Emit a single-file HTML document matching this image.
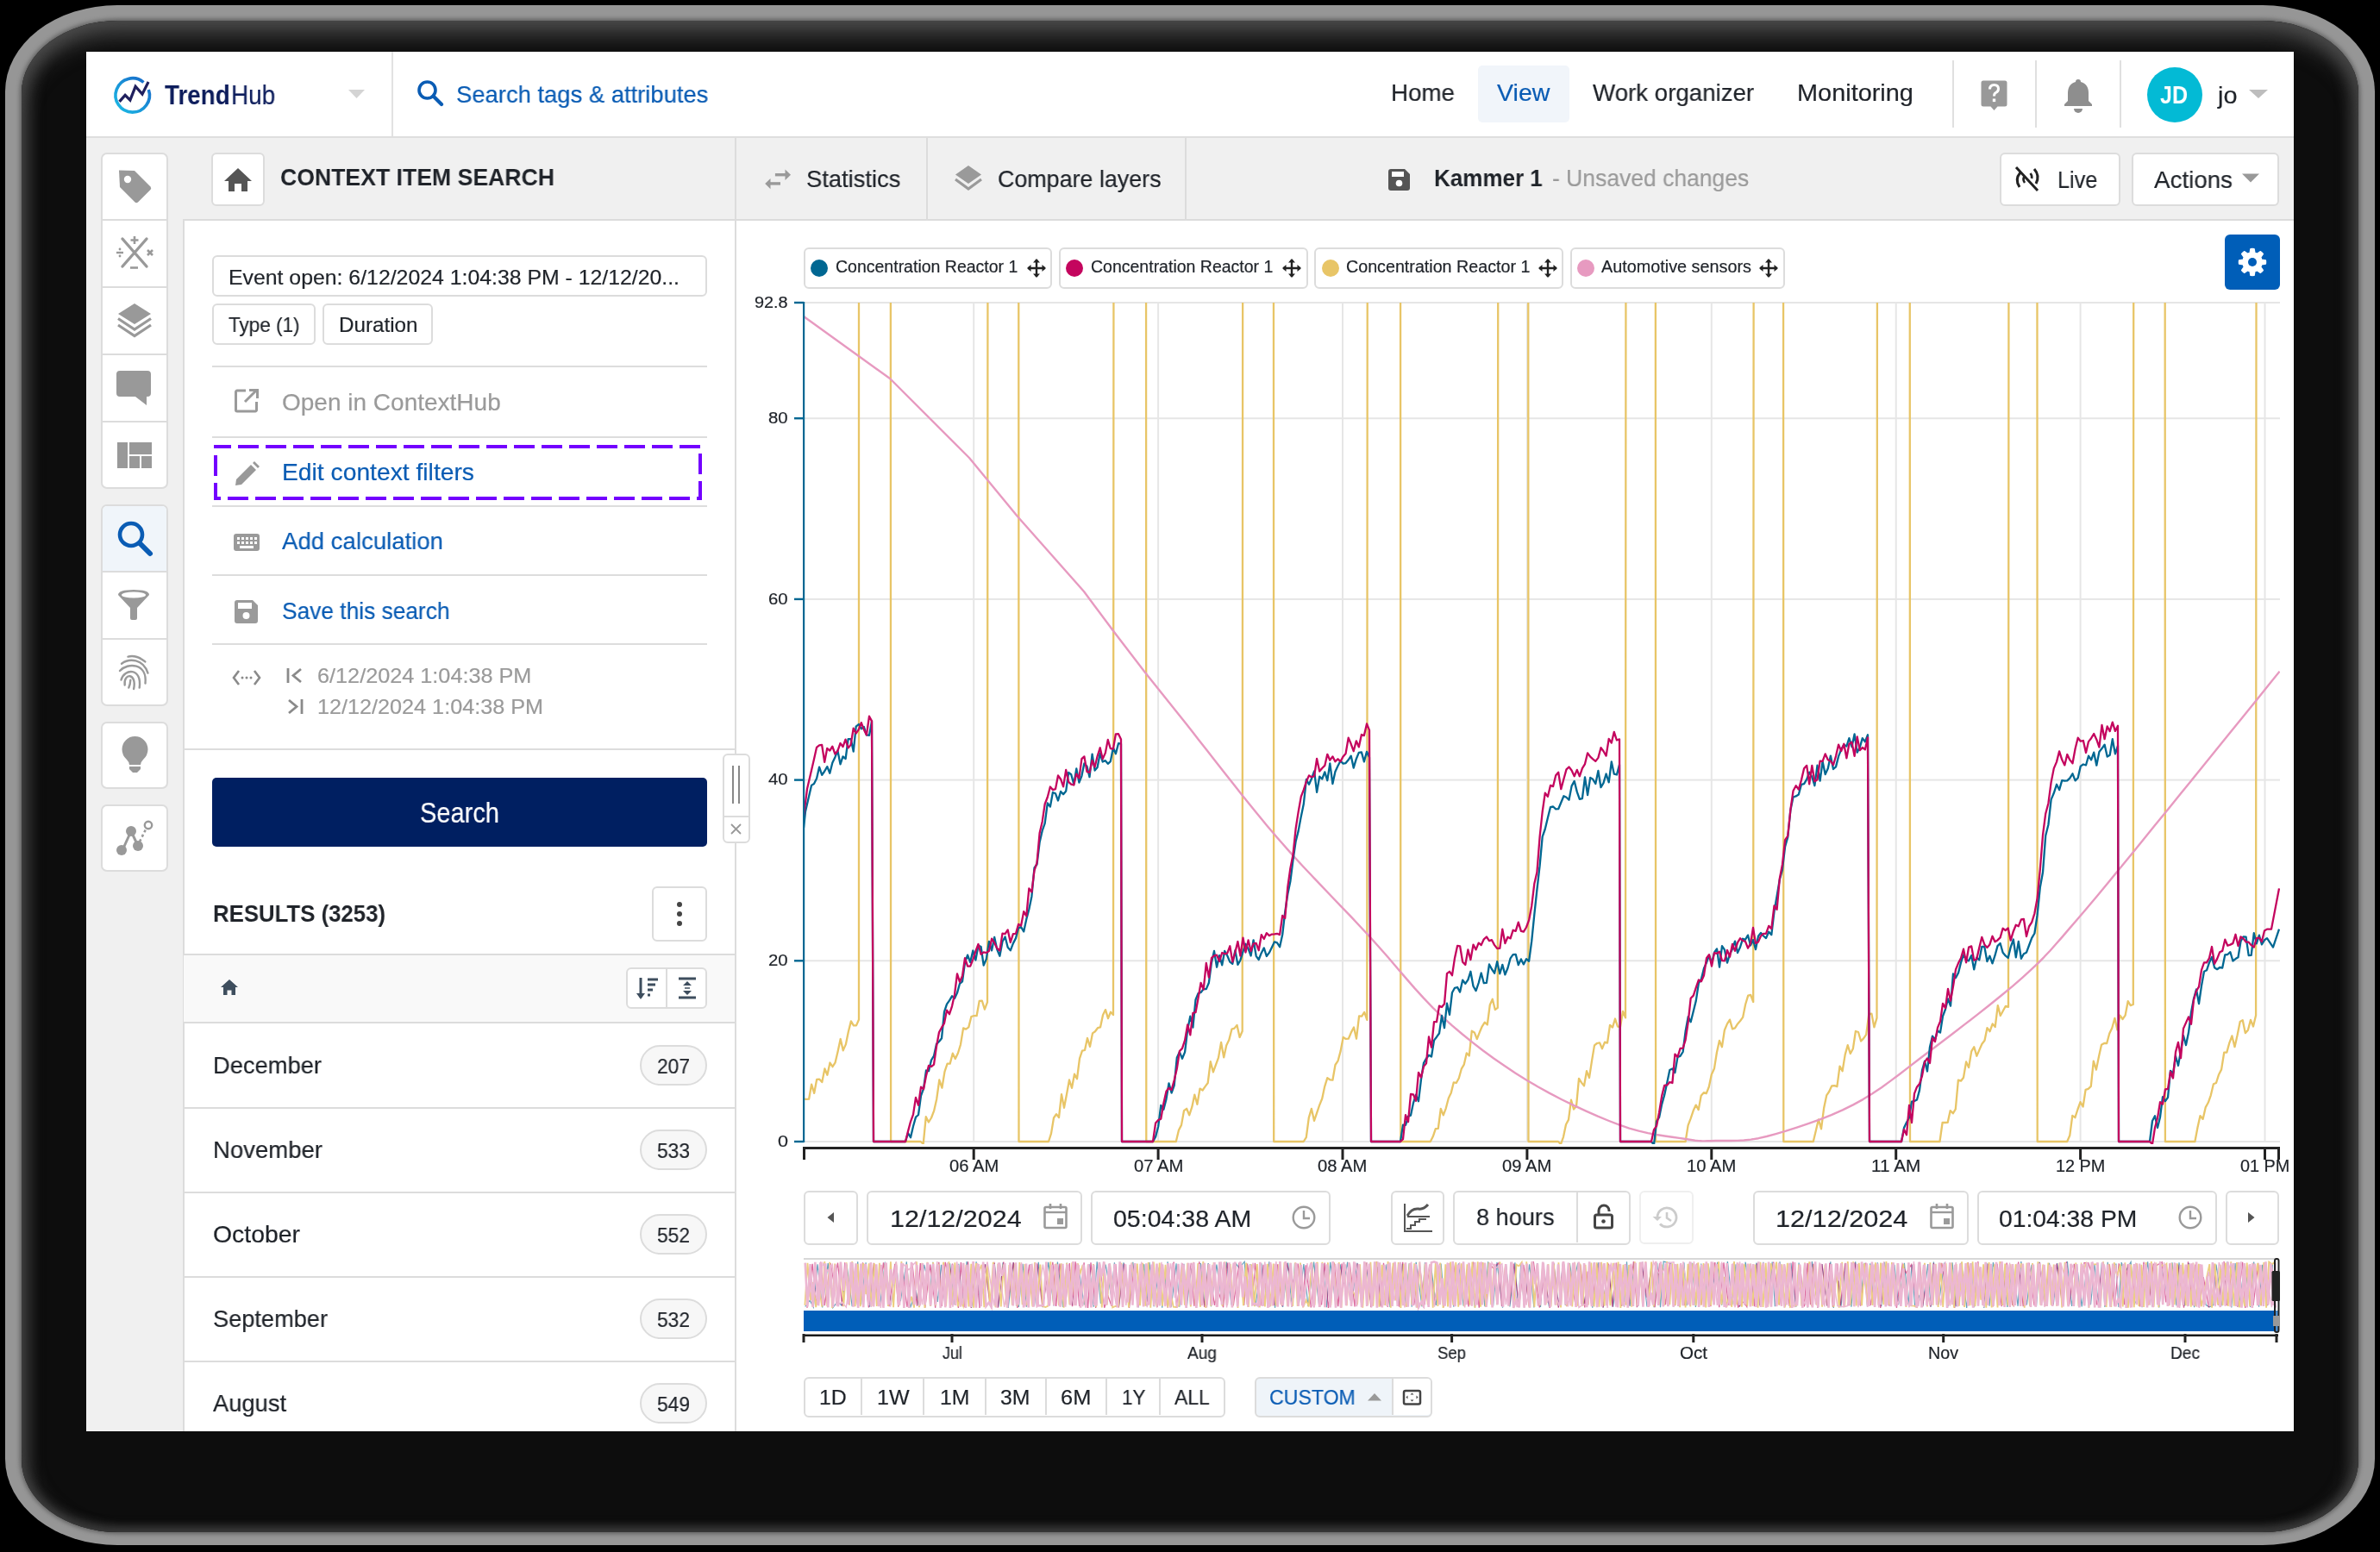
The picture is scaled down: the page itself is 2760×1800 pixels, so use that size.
<!DOCTYPE html><html><head><meta charset="utf-8"><style>
*{margin:0;padding:0;box-sizing:border-box}
html,body{width:2760px;height:1800px;overflow:hidden;background:#000;font-family:"Liberation Sans",sans-serif}
.t{position:absolute;white-space:nowrap;line-height:1;transform-origin:0 0;will-change:transform;-webkit-text-stroke:0.2px currentColor}
.b{position:absolute}
.chart{position:absolute;left:0;top:0}
svg.i{position:absolute;overflow:visible}
</style></head><body>
<div class="b" style="left:6.0px;top:6.0px;width:2748.0px;height:1786.0px;border-radius:130px / 100px;background:#969696;"></div>
<div class="b" style="left:25.0px;top:24.0px;width:2710.0px;height:1753.0px;border-radius:112px / 84px;background:#0d0d0d;box-shadow:inset 0 22px 26px -6px #4a4a4a, inset 0 -10px 12px -4px #3c3c3c, inset 14px 0 18px -6px #3c3c3c, inset -14px 0 18px -6px #3c3c3c, 0 0 5px 2px #606060;"></div>
<div class="b" style="left:100.0px;top:60.0px;width:2560.0px;height:1600.0px;background:#f0f0f0;"></div>
<div class="b" style="left:100.0px;top:60.0px;width:2560.0px;height:98.0px;background:#fff;"></div>
<div class="b" style="left:100.0px;top:158.0px;width:2560.0px;height:2.0px;background:#dedede;"></div>
<div class="b" style="left:454.0px;top:60.0px;width:2.0px;height:98.0px;background:#e2e2e2;"></div>
<svg class="i" style="left:0;top:0" width="400" height="200">
<defs><linearGradient id="lg" x1="0" y1="1" x2="1" y2="0"><stop offset="0" stop-color="#1cbde6"/><stop offset="1" stop-color="#1766c8"/></linearGradient></defs>
<path d="M 166.5 95.5 A 19.7 19.7 0 1 0 172.3 104" fill="none" stroke="url(#lg)" stroke-width="3.6"/>
<polyline points="138.5,117.9 145.1,110.4 150.9,116.2 157.1,100.3 165,109.1 172.1,95" fill="none" stroke="#20205e" stroke-width="3.2" stroke-linejoin="miter"/>
</svg>
<div class="t" style="left:191.3px;top:95.1px;font-size:30.52px;color:#0d1d5c;font-weight:700;-webkit-text-stroke:0;transform:scaleX(0.9109);">Trend</div>
<div class="t" style="left:268.2px;top:95.1px;font-size:30.52px;color:#0d1d5c;transform:scaleX(0.9144);">Hub</div>
<svg class="i" style="left:400px;top:100px" width="30" height="20"><path d="M4 4 L23 4 L13.5 14 Z" fill="#d4d4d4"/></svg>
<svg class="i" style="left:480px;top:90px" width="40" height="40"><circle cx="15.5" cy="14.5" r="9.5" fill="none" stroke="#0a5cb4" stroke-width="3.6"/><path d="M22.5 21.5 L32 31" stroke="#0a5cb4" stroke-width="4.2" stroke-linecap="round"/></svg>
<div class="t" style="left:528.6px;top:95.9px;font-size:28.00px;color:#0a5cb4;transform:scaleX(0.9785);">Search tags &amp; attributes</div>
<div class="b" style="left:1714.0px;top:76.0px;width:106.0px;height:66.0px;background:#f1f5fa;border-radius:5px;"></div>
<div class="t" style="left:1613.0px;top:94.2px;font-size:28.00px;color:#1f2329;transform:scaleX(0.9908);">Home</div>
<div class="t" style="left:1735.6px;top:94.2px;font-size:28.00px;color:#0a5cb4;transform:scaleX(1.0202);">View</div>
<div class="t" style="left:1846.6px;top:94.2px;font-size:28.00px;color:#1f2329;transform:scaleX(0.9882);">Work organizer</div>
<div class="t" style="left:2083.7px;top:94.2px;font-size:28.00px;color:#1f2329;transform:scaleX(1.0319);">Monitoring</div>
<div class="b" style="left:2264.0px;top:70.0px;width:2.0px;height:78.0px;background:#e0e0e0;"></div>
<div class="b" style="left:2360.0px;top:70.0px;width:2.0px;height:78.0px;background:#e0e0e0;"></div>
<div class="b" style="left:2458.0px;top:70.0px;width:2.0px;height:78.0px;background:#e0e0e0;"></div>
<svg class="i" style="left:2297px;top:93px" width="32" height="36"><path d="M3 0.5 H28 A2.5 2.5 0 0 1 30.5 3 V28 A2.5 2.5 0 0 1 28 30.5 H19.5 L15.5 35 L11.5 30.5 H3 A2.5 2.5 0 0 1 0.5 28 V3 A2.5 2.5 0 0 1 3 0.5 Z" fill="#999"/><path d="M10.5 10.5 Q10.5 5.5 15.5 5.5 Q20.5 5.5 20.5 10 Q20.5 13 17.5 14.5 Q15.5 15.5 15.5 18.5" fill="none" stroke="#fff" stroke-width="3"/><rect x="13.8" y="21.5" width="3.4" height="3.6" fill="#fff"/></svg>
<svg class="i" style="left:2388px;top:88px" width="44" height="46"><path d="M22 4 C24 4 25 5 25 7 C31 8.5 34 13 34 20 L34 29 L38 33 L38 35 L6 35 L6 33 L10 29 L10 20 C10 13 13 8.5 19 7 C19 5 20 4 22 4 Z" fill="#8e8e8e"/><path d="M17 38 A5 5 0 0 0 27 38 Z" fill="#8e8e8e"/></svg>
<div class="b" style="left:2490.0px;top:78.0px;width:64.0px;height:64.0px;background:#03bad5;border-radius:50%;"></div>
<div class="t" style="left:2505.0px;top:95.7px;font-size:29.07px;color:#fff;font-weight:700;-webkit-text-stroke:0;transform:scaleX(0.8611);">JD</div>
<div class="t" style="left:2572.0px;top:96.6px;font-size:28.00px;color:#1f2329;transform:scaleX(1.0324);">jo</div>
<svg class="i" style="left:2604px;top:100px" width="30" height="20"><path d="M4 4 L26 4 L15 14 Z" fill="#bdbdbd"/></svg>
<div class="b" style="left:117.0px;top:177.0px;width:78.0px;height:390.0px;background:#fff;border:2px solid #dcdcdc;border-radius:7px;"></div>
<div class="b" style="left:118.0px;top:254.0px;width:76.0px;height:2.0px;background:#dcdcdc;"></div>
<div class="b" style="left:118.0px;top:332.0px;width:76.0px;height:2.0px;background:#dcdcdc;"></div>
<div class="b" style="left:118.0px;top:410.0px;width:76.0px;height:2.0px;background:#dcdcdc;"></div>
<div class="b" style="left:118.0px;top:488.0px;width:76.0px;height:2.0px;background:#dcdcdc;"></div>
<div class="b" style="left:117.0px;top:585.0px;width:78.0px;height:234.0px;background:#fff;border:2px solid #dcdcdc;border-radius:7px;"></div>
<div class="b" style="left:119.0px;top:587.0px;width:74.0px;height:76.0px;background:#f0f5fa;border-radius:5px 5px 0 0;"></div>
<div class="b" style="left:118.0px;top:662.0px;width:76.0px;height:2.0px;background:#dcdcdc;"></div>
<div class="b" style="left:118.0px;top:740.0px;width:76.0px;height:2.0px;background:#dcdcdc;"></div>
<div class="b" style="left:117.0px;top:837.0px;width:78.0px;height:78.0px;background:#fff;border:2px solid #dcdcdc;border-radius:7px;"></div>
<div class="b" style="left:117.0px;top:933.0px;width:78.0px;height:78.0px;background:#fff;border:2px solid #dcdcdc;border-radius:7px;"></div>
<svg class="i" style="left:135.0px;top:195.0px" width="42" height="42" viewBox="0 0 42 42"><path d="M3 2.5 L21 3 L39.5 21.5 Q41 23.5 39.5 25 L25 39.5 Q23 41 21.5 39.5 L4 22 Z" fill="#999999"/><circle cx="13" cy="13" r="4.2" fill="#fff"/></svg>
<svg class="i" style="left:134.0px;top:274.0px" width="44" height="40" viewBox="0 0 44 40"><path d="M8 3 L36 35 M36 3 L8 35" stroke="#999999" stroke-width="3.4" stroke-linecap="round"/><path d="M22 0 V9 M17.5 4.5 H26.5" stroke="#999999" stroke-width="2.6"/><path d="M17 36.5 H26" stroke="#999999" stroke-width="2.6"/><path d="M1 19 H9" stroke="#999999" stroke-width="2.4"/><circle cx="5" cy="15" r="1.4" fill="#999999"/><circle cx="5" cy="23" r="1.4" fill="#999999"/><path d="M37 16 L43 22 M43 16 L37 22" stroke="#999999" stroke-width="2.6"/></svg>
<svg class="i" style="left:135.0px;top:351.0px" width="42" height="42" viewBox="0 0 42 42"><path d="M21 1 L40 13 L21 25 L2 13 Z" fill="#999999"/><path d="M2 18.5 L21 31 L40 18.5" fill="none" stroke="#999999" stroke-width="3.2"/><path d="M2 26 L21 38.5 L40 26" fill="none" stroke="#999999" stroke-width="3.2"/></svg>
<svg class="i" style="left:135.0px;top:430.0px" width="42" height="42" viewBox="0 0 42 42"><path d="M4 0 H36 A4 4 0 0 1 40 4 V26 A4 4 0 0 1 36 30 H35 V40 L22 30 H4 A4 4 0 0 1 0 26 V4 A4 4 0 0 1 4 0 Z" fill="#999999"/></svg>
<svg class="i" style="left:135.0px;top:512.0px" width="42" height="32" viewBox="0 0 42 32"><rect x="1" y="1" width="12" height="30" fill="#999999"/><rect x="15" y="1" width="26" height="14" fill="#999999"/><rect x="15" y="17" width="12" height="14" fill="#999999"/><rect x="29" y="17" width="12" height="14" fill="#999999"/></svg>
<svg class="i" style="left:135.0px;top:603.0px" width="44" height="44" viewBox="0 0 44 44"><circle cx="17" cy="17" r="13" fill="none" stroke="#0a5cb4" stroke-width="4.6"/><path d="M27 27 L39 39" stroke="#0a5cb4" stroke-width="6" stroke-linecap="round"/></svg>
<svg class="i" style="left:137.0px;top:684.0px" width="38" height="36" viewBox="0 0 38 36"><path d="M0 6 Q0 0 18 0 Q36 0 36 6 L22 21 V33 Q22 35 20 35 H16 Q14 35 14 33 V21 Z" fill="#999999"/><ellipse cx="18" cy="6" rx="14" ry="3.6" fill="#fff"/></svg>
<svg class="i" style="left:130.0px;top:750.0px" width="50" height="60" viewBox="0 0 50 60"><path d="M18.5 11.6 Q28 9 38.3 17.4" fill="none" stroke="#999999" stroke-width="2.4" stroke-linecap="round"/><path d="M11 19.7 C20 13 36 14 41.5 30.6" fill="none" stroke="#999999" stroke-width="2.4" stroke-linecap="round"/><path d="M9 28 C18 18 41 19 38.5 42.5" fill="none" stroke="#999999" stroke-width="2.4" stroke-linecap="round"/><path d="M10.5 38.5 C14 25 35 24 31.7 47.6" fill="none" stroke="#999999" stroke-width="2.4" stroke-linecap="round"/><path d="M14.7 44.5 C13 30 29 30 25.1 49.1" fill="none" stroke="#999999" stroke-width="2.4" stroke-linecap="round"/><path d="M21.3 38.7 Q21 44 19.3 47.6" fill="none" stroke="#999999" stroke-width="2.4" stroke-linecap="round"/></svg>
<svg class="i" style="left:140.0px;top:854.0px" width="34" height="44" viewBox="0 0 34 44"><path d="M16.5 0 A15 15 0 0 1 31.5 15 Q31.5 22 26 27 Q23 30 23 33 H10 Q10 30 7 27 Q1.5 22 1.5 15 A15 15 0 0 1 16.5 0 Z" fill="#999999"/><path d="M10 35 H23 V38 L19 42 H14 L10 38 Z" fill="#999999"/></svg>
<svg class="i" style="left:134.0px;top:951.0px" width="44" height="42" viewBox="0 0 44 42"><path d="M8 35 L18 13 L26 30" fill="none" stroke="#999999" stroke-width="3"/><path d="M28 25 L36 9" stroke="#999999" stroke-width="2.6" stroke-dasharray="3 3"/><circle cx="7" cy="35" r="6" fill="#999999"/><circle cx="18" cy="13" r="6" fill="#999999"/><circle cx="26" cy="30" r="6" fill="#999999"/><circle cx="38" cy="6" r="4.2" fill="none" stroke="#999999" stroke-width="2.4"/></svg>
<div class="b" style="left:245.0px;top:177.0px;width:62.0px;height:62.0px;background:#fff;border:2px solid #dcdcdc;border-radius:6px;"></div>
<svg class="i" style="left:258.0px;top:193.0px" width="36" height="30" viewBox="0 0 36 30"><path d="M18 2 L34 17 H29 V29 H22 V20 H14 V29 H7 V17 H2 Z" fill="#555"/></svg>
<div class="t" style="left:325.0px;top:192.1px;font-size:28.00px;color:#1f2329;font-weight:700;-webkit-text-stroke:0;transform:scaleX(0.9508);">CONTEXT ITEM SEARCH</div>
<div class="b" style="left:212.0px;top:254.0px;width:642.0px;height:1406.0px;background:#fff;border-left:2px solid #dcdcdc;border-top:2px solid #dcdcdc;"></div>
<div class="b" style="left:246.0px;top:296.0px;width:574.0px;height:48.0px;border:2px solid #dcdcdc;border-radius:6px;"></div>
<div class="t" style="left:265.0px;top:309.6px;font-size:24.00px;color:#1f2329;transform:scaleX(1.0342);">Event open: 6/12/2024 1:04:38 PM - 12/12/20...</div>
<div class="b" style="left:246.0px;top:352.0px;width:120.0px;height:48.0px;border:2px solid #dcdcdc;border-radius:6px;"></div>
<div class="t" style="left:265.0px;top:365.4px;font-size:24.00px;color:#1f2329;transform:scaleX(0.9372);">Type (1)</div>
<div class="b" style="left:374.0px;top:352.0px;width:128.0px;height:48.0px;border:2px solid #dcdcdc;border-radius:6px;"></div>
<div class="t" style="left:392.5px;top:365.4px;font-size:24.00px;color:#1f2329;transform:scaleX(1.0086);">Duration</div>
<div class="b" style="left:246.0px;top:424.0px;width:574.0px;height:2.0px;background:#dddddd;"></div>
<div class="b" style="left:246.0px;top:506.0px;width:574.0px;height:2.0px;background:#dddddd;"></div>
<div class="b" style="left:246.0px;top:586.0px;width:574.0px;height:2.0px;background:#dddddd;"></div>
<div class="b" style="left:246.0px;top:666.0px;width:574.0px;height:2.0px;background:#dddddd;"></div>
<div class="b" style="left:246.0px;top:746.0px;width:574.0px;height:2.0px;background:#dddddd;"></div>
<svg class="i" style="left:271.0px;top:450.0px" width="30" height="30" viewBox="0 0 30 30"><path d="M14 3 H4 A1.5 1.5 0 0 0 2.5 4.5 V25.5 A1.5 1.5 0 0 0 4 27 H25 A1.5 1.5 0 0 0 26.5 25.5 V16" fill="none" stroke="#9a9a9a" stroke-width="3"/><path d="M13 16 L26 3 M18 2.5 H27.5 V12" fill="none" stroke="#9a9a9a" stroke-width="3"/></svg>
<div class="t" style="left:327.0px;top:452.7px;font-size:28.00px;color:#9a9a9a;">Open in ContextHub</div>
<svg class="i" style="left:248px;top:516px" width="566" height="64"><rect x="2" y="2" width="562" height="60" fill="none" stroke="#7300ff" stroke-width="4" stroke-dasharray="24 8" stroke-dashoffset="6"/></svg>
<svg class="i" style="left:271.0px;top:535.0px" width="30" height="30" viewBox="0 0 30 30"><path d="M2 28 L3 21 L20 4 L26 10 L9 27 Z" fill="#999"/><path d="M22 2 L24 0 L30 6 L28 8 Z" fill="#999"/></svg>
<div class="t" style="left:327.0px;top:534.1px;font-size:28.00px;color:#0a5cb4;transform:scaleX(1.0091);">Edit context filters</div>
<svg class="i" style="left:270.0px;top:617.0px" width="32" height="24" viewBox="0 0 32 24"><rect x="1" y="2" width="30" height="20" rx="3" fill="#9a9a9a"/><rect x="5" y="6" width="3" height="3" fill="#fff"/><rect x="5" y="11" width="3" height="3" fill="#fff"/><rect x="10" y="6" width="3" height="3" fill="#fff"/><rect x="10" y="11" width="3" height="3" fill="#fff"/><rect x="15" y="6" width="3" height="3" fill="#fff"/><rect x="15" y="11" width="3" height="3" fill="#fff"/><rect x="20" y="6" width="3" height="3" fill="#fff"/><rect x="20" y="11" width="3" height="3" fill="#fff"/><rect x="25" y="6" width="3" height="3" fill="#fff"/><rect x="25" y="11" width="3" height="3" fill="#fff"/><rect x="8" y="16" width="16" height="3" fill="#fff"/></svg>
<div class="t" style="left:327.0px;top:613.7px;font-size:28.00px;color:#0a5cb4;transform:scaleX(0.9847);">Add calculation</div>
<svg class="i" style="left:271.0px;top:695.0px" width="30" height="30" viewBox="0 0 30 30"><path d="M3 1 H22 L28 7 V25 A3 3 0 0 1 25 28 H4 A3 3 0 0 1 1 25 V4 A3 3 0 0 1 4 1 Z" fill="#9a9a9a"/><rect x="5" y="4" width="16" height="7" fill="#fff"/><circle cx="14.5" cy="19" r="4" fill="#fff"/></svg>
<div class="t" style="left:327.0px;top:694.5px;font-size:28.00px;color:#0a5cb4;transform:scaleX(0.9396);">Save this search</div>
<svg class="i" style="left:268.0px;top:774.0px" width="36" height="24" viewBox="0 0 36 24"><path d="M9 4 L3 12 L9 20 M27 4 L33 12 L27 20" fill="none" stroke="#8a8a8a" stroke-width="2.6"/><circle cx="13" cy="12" r="1.5" fill="#8a8a8a"/><circle cx="18" cy="12" r="1.5" fill="#8a8a8a"/><circle cx="23" cy="12" r="1.5" fill="#8a8a8a"/></svg>
<svg class="i" style="left:332.0px;top:774.0px" width="22" height="20" viewBox="0 0 22 20"><path d="M2 1 V18" stroke="#8a8a8a" stroke-width="2.8"/><path d="M17 2 L8 9.5 L17 17" fill="none" stroke="#8a8a8a" stroke-width="2.8"/></svg>
<svg class="i" style="left:332.0px;top:810.0px" width="22" height="20" viewBox="0 0 22 20"><path d="M18 1 V18" stroke="#8a8a8a" stroke-width="2.8"/><path d="M3 2 L12 9.5 L3 17" fill="none" stroke="#8a8a8a" stroke-width="2.8"/></svg>
<div class="t" style="left:368.0px;top:771.5px;font-size:24.00px;color:#9a9a9a;transform:scaleX(1.0517);">6/12/2024 1:04:38 PM</div>
<div class="t" style="left:368.0px;top:807.5px;font-size:24.00px;color:#9a9a9a;transform:scaleX(1.0500);">12/12/2024 1:04:38 PM</div>
<div class="b" style="left:213.0px;top:868.0px;width:640.0px;height:2.0px;background:#dddddd;"></div>
<div class="b" style="left:246.0px;top:902.0px;width:574.0px;height:80.0px;background:#001f61;border-radius:5px;"></div>
<div class="t" style="left:487.0px;top:927.0px;font-size:32.30px;color:#fff;transform:scaleX(0.8989);">Search</div>
<div class="t" style="left:247.0px;top:1046.1px;font-size:28.00px;color:#1f2329;font-weight:700;-webkit-text-stroke:0;transform:scaleX(0.9203);">RESULTS (3253)</div>
<div class="b" style="left:756.0px;top:1028.0px;width:64.0px;height:64.0px;border:2px solid #dcdcdc;border-radius:6px;"></div>
<svg class="i" style="left:782.0px;top:1045.0px" width="12" height="30" viewBox="0 0 12 30"><circle cx="6" cy="4" r="3" fill="#444"/><circle cx="6" cy="15" r="3" fill="#444"/><circle cx="6" cy="26" r="3" fill="#444"/></svg>
<div class="b" style="left:213.0px;top:1106.0px;width:640.0px;height:81.0px;background:#f9f9f9;border-top:2px solid #dcdcdc;border-bottom:2px solid #dcdcdc;"></div>
<svg class="i" style="left:255.0px;top:1135.0px" width="22" height="22" viewBox="0 0 22 22"><path d="M11 1 L21 10 H18 V19 H13.5 V13.5 H8.5 V19 H4 V10 H1 Z" fill="#3e4e5e"/></svg>
<div class="b" style="left:726.0px;top:1122.0px;width:94.0px;height:48.0px;background:#fff;border:2px solid #dcdcdc;border-radius:6px;"></div>
<div class="b" style="left:772.0px;top:1124.0px;width:2.0px;height:44.0px;background:#dcdcdc;"></div>
<svg class="i" style="left:736.0px;top:1132.0px" width="30" height="30" viewBox="0 0 30 30"><path d="M7 2 V25" stroke="#3e4e5e" stroke-width="3"/><path d="M2 20 L7 27 L12 20 Z" fill="#3e4e5e"/><path d="M15 4 H27 M15 10 H24 M15 16 H21 M15 22 H18" stroke="#3e4e5e" stroke-width="3"/></svg>
<svg class="i" style="left:782.0px;top:1132.0px" width="30" height="30" viewBox="0 0 30 30"><path d="M5 3 H25 M5 25 H25" stroke="#3e4e5e" stroke-width="3"/><path d="M10 11 L15 6 L20 11 Z M10 17 L15 22 L20 17 Z" fill="#3e4e5e"/><path d="M12 14 H18" stroke="#3e4e5e" stroke-width="1.5"/></svg>
<div class="b" style="left:213.0px;top:1284.0px;width:640.0px;height:2.0px;background:#dcdcdc;"></div>
<div class="t" style="left:247.0px;top:1222.1px;font-size:28.00px;color:#1f2329;transform:scaleX(0.9755);">December</div>
<div class="b" style="left:742.0px;top:1212.0px;width:78.0px;height:47.0px;background:#f7f7f7;border:2px solid #dcdcdc;border-radius:24px;"></div>
<div class="t" style="left:762.0px;top:1225.4px;font-size:24.00px;color:#1f2329;transform:scaleX(0.9490);">207</div>
<div class="b" style="left:213.0px;top:1382.0px;width:640.0px;height:2.0px;background:#dcdcdc;"></div>
<div class="t" style="left:247.0px;top:1320.1px;font-size:28.00px;color:#1f2329;transform:scaleX(0.9833);">November</div>
<div class="b" style="left:742.0px;top:1310.0px;width:78.0px;height:47.0px;background:#f7f7f7;border:2px solid #dcdcdc;border-radius:24px;"></div>
<div class="t" style="left:762.0px;top:1323.4px;font-size:24.00px;color:#1f2329;transform:scaleX(0.9490);">533</div>
<div class="b" style="left:213.0px;top:1480.0px;width:640.0px;height:2.0px;background:#dcdcdc;"></div>
<div class="t" style="left:247.0px;top:1418.1px;font-size:28.00px;color:#1f2329;transform:scaleX(1.0141);">October</div>
<div class="b" style="left:742.0px;top:1408.0px;width:78.0px;height:47.0px;background:#f7f7f7;border:2px solid #dcdcdc;border-radius:24px;"></div>
<div class="t" style="left:762.0px;top:1421.4px;font-size:24.00px;color:#1f2329;transform:scaleX(0.9490);">552</div>
<div class="b" style="left:213.0px;top:1578.0px;width:640.0px;height:2.0px;background:#dcdcdc;"></div>
<div class="t" style="left:247.0px;top:1516.1px;font-size:28.00px;color:#1f2329;transform:scaleX(0.9710);">September</div>
<div class="b" style="left:742.0px;top:1506.0px;width:78.0px;height:47.0px;background:#f7f7f7;border:2px solid #dcdcdc;border-radius:24px;"></div>
<div class="t" style="left:762.0px;top:1519.4px;font-size:24.00px;color:#1f2329;transform:scaleX(0.9490);">532</div>
<div class="t" style="left:247.0px;top:1614.1px;font-size:28.00px;color:#1f2329;transform:scaleX(0.9751);">August</div>
<div class="b" style="left:742.0px;top:1604.0px;width:78.0px;height:47.0px;background:#f7f7f7;border:2px solid #dcdcdc;border-radius:24px;"></div>
<div class="t" style="left:762.0px;top:1617.4px;font-size:24.00px;color:#1f2329;transform:scaleX(0.9490);">549</div>
<div class="b" style="left:852.0px;top:254.0px;width:1808.0px;height:1406.0px;background:#fff;border-left:2px solid #dcdcdc;border-top:2px solid #dcdcdc;"></div>
<div class="b" style="left:852.0px;top:160.0px;width:2.0px;height:96.0px;background:#dcdcdc;"></div>
<div class="b" style="left:1074.0px;top:160.0px;width:2.0px;height:96.0px;background:#dcdcdc;"></div>
<div class="b" style="left:1374.0px;top:160.0px;width:2.0px;height:96.0px;background:#dcdcdc;"></div>
<svg class="i" style="left:886.0px;top:196.0px" width="32" height="26" viewBox="0 0 32 26"><path d="M12.9 6.7 H25.5" stroke="#9a9a9a" stroke-width="3.4"/><path d="M24.5 0.6 L31 6.7 L24.5 13 Z" fill="#9a9a9a"/><path d="M6.5 16.9 H19" stroke="#9a9a9a" stroke-width="3.4"/><path d="M7.5 10.9 L1.2 16.9 L7.5 23.3 Z" fill="#9a9a9a"/></svg>
<div class="t" style="left:935.0px;top:193.9px;font-size:28.00px;color:#1f2329;transform:scaleX(0.9765);">Statistics</div>
<svg class="i" style="left:1107.0px;top:191.0px" width="34" height="34" viewBox="0 0 34 34"><path d="M16 1 L31 11.5 L16 22 L1 11.5 Z" fill="#9a9a9a"/><path d="M1 17 L16 28 L31 17" fill="none" stroke="#9a9a9a" stroke-width="3.2"/></svg>
<div class="t" style="left:1156.5px;top:193.9px;font-size:28.00px;color:#1f2329;transform:scaleX(0.9589);">Compare layers</div>
<svg class="i" style="left:1609.0px;top:195.0px" width="28" height="28" viewBox="0 0 28 28"><path d="M3 1 H20 L26 7 V23 A3 3 0 0 1 23 26 H4 A3 3 0 0 1 1 23 V4 A3 3 0 0 1 4 1 Z" fill="#555"/><rect x="5" y="4" width="14" height="6" fill="#fff"/><circle cx="13.5" cy="17.5" r="3.8" fill="#fff"/></svg>
<div class="t" style="left:1663.0px;top:193.4px;font-size:28.00px;color:#1f2329;font-weight:700;-webkit-text-stroke:0;transform:scaleX(0.9291);">Kammer 1</div>
<div class="t" style="left:1800.0px;top:193.4px;font-size:28.00px;color:#9a9a9a;transform:scaleX(0.9459);">- Unsaved changes</div>
<div class="b" style="left:2319.0px;top:177.0px;width:140.0px;height:62.0px;border:2px solid #dcdcdc;border-radius:6px;background:#fff;"></div>
<svg class="i" style="left:2335.0px;top:192.0px" width="34" height="32" viewBox="0 0 34 32"><path d="M3 2 L28 29" stroke="#222" stroke-width="3"/><path d="M8 8 Q1 16 7 25" fill="none" stroke="#222" stroke-width="3"/><path d="M13 12 Q10 16 13 20" fill="none" stroke="#222" stroke-width="2.6"/><path d="M24 4 Q31 12 26 21" fill="none" stroke="#222" stroke-width="3"/><path d="M19.5 9 Q22 12 21 15" fill="none" stroke="#222" stroke-width="2.6"/></svg>
<div class="t" style="left:2386.0px;top:194.5px;font-size:28.00px;color:#1f2329;transform:scaleX(0.9033);">Live</div>
<div class="b" style="left:2472.0px;top:177.0px;width:171.0px;height:62.0px;border:2px solid #dcdcdc;border-radius:6px;background:#fff;"></div>
<div class="t" style="left:2498.0px;top:194.5px;font-size:28.00px;color:#1f2329;transform:scaleX(0.9911);">Actions</div>
<svg class="i" style="left:2598.0px;top:200.0px" width="24" height="14" viewBox="0 0 24 14"><path d="M2 1.5 H22 L12 11.5 Z" fill="#999"/></svg>
<div class="b" style="left:931.6px;top:287.0px;width:288.4px;height:48.0px;border:2px solid #dcdcdc;border-radius:6px;"></div>
<div class="b" style="left:940.2px;top:300.7px;width:20.0px;height:20.0px;background:#006792;border-radius:50%;"></div>
<div class="t" style="left:968.7px;top:300.2px;font-size:19.50px;color:#1f2329;">Concentration Reactor 1</div>
<svg class="i" style="left:1190.6px;top:300.0px" width="22" height="22" viewBox="0 0 22 22"><path d="M11 1 V21 M1 11 H21" stroke="#222" stroke-width="2.4"/><path d="M11 0 L7 4.5 H15 Z M11 22 L7 17.5 H15 Z M0 11 L4.5 7 V15 Z M22 11 L17.5 7 V15 Z" fill="#222"/></svg>
<div class="b" style="left:1228.0px;top:287.0px;width:289.0px;height:48.0px;border:2px solid #dcdcdc;border-radius:6px;"></div>
<div class="b" style="left:1236.4px;top:300.7px;width:20.0px;height:20.0px;background:#c4055e;border-radius:50%;"></div>
<div class="t" style="left:1265.3px;top:300.2px;font-size:19.50px;color:#1f2329;">Concentration Reactor 1</div>
<svg class="i" style="left:1487.3px;top:300.0px" width="22" height="22" viewBox="0 0 22 22"><path d="M11 1 V21 M1 11 H21" stroke="#222" stroke-width="2.4"/><path d="M11 0 L7 4.5 H15 Z M11 22 L7 17.5 H15 Z M0 11 L4.5 7 V15 Z M22 11 L17.5 7 V15 Z" fill="#222"/></svg>
<div class="b" style="left:1524.4px;top:287.0px;width:289.0px;height:48.0px;border:2px solid #dcdcdc;border-radius:6px;"></div>
<div class="b" style="left:1532.8px;top:300.7px;width:20.0px;height:20.0px;background:#e8c567;border-radius:50%;"></div>
<div class="t" style="left:1561.0px;top:300.2px;font-size:19.50px;color:#1f2329;transform:scaleX(1.0096);">Concentration Reactor 1</div>
<svg class="i" style="left:1784.0px;top:300.0px" width="22" height="22" viewBox="0 0 22 22"><path d="M11 1 V21 M1 11 H21" stroke="#222" stroke-width="2.4"/><path d="M11 0 L7 4.5 H15 Z M11 22 L7 17.5 H15 Z M0 11 L4.5 7 V15 Z M22 11 L17.5 7 V15 Z" fill="#222"/></svg>
<div class="b" style="left:1820.7px;top:287.0px;width:249.6px;height:48.0px;border:2px solid #dcdcdc;border-radius:6px;"></div>
<div class="b" style="left:1829.2px;top:300.7px;width:20.0px;height:20.0px;background:#e79ac0;border-radius:50%;"></div>
<div class="t" style="left:1857.3px;top:300.2px;font-size:19.50px;color:#1f2329;transform:scaleX(1.0161);">Automotive sensors</div>
<svg class="i" style="left:2040.0px;top:300.0px" width="22" height="22" viewBox="0 0 22 22"><path d="M11 1 V21 M1 11 H21" stroke="#222" stroke-width="2.4"/><path d="M11 0 L7 4.5 H15 Z M11 22 L7 17.5 H15 Z M0 11 L4.5 7 V15 Z M22 11 L17.5 7 V15 Z" fill="#222"/></svg>
<div class="b" style="left:2580.0px;top:272.0px;width:64.0px;height:64.0px;background:#005eb8;border-radius:6px;"></div>
<svg class="i" style="left:2592.0px;top:283.5px" width="40" height="40" viewBox="0 0 40 40"><polygon points="35.50,20.00 35.37,22.02 30.63,22.85 30.16,24.21 29.53,25.50 32.30,29.44 30.96,30.96 29.44,32.30 25.50,29.53 24.21,30.16 22.85,30.63 22.02,35.37 20.00,35.50 17.98,35.37 17.15,30.63 15.79,30.16 14.50,29.53 10.56,32.30 9.04,30.96 7.70,29.44 10.47,25.50 9.84,24.21 9.37,22.85 4.63,22.02 4.50,20.00 4.63,17.98 9.37,17.15 9.84,15.79 10.47,14.50 7.70,10.56 9.04,9.04 10.56,7.70 14.50,10.47 15.79,9.84 17.15,9.37 17.98,4.63 20.00,4.50 22.02,4.63 22.85,9.37 24.21,9.84 25.50,10.47 29.44,7.70 30.96,9.04 32.30,10.56 29.53,14.50 30.16,15.79 30.63,17.15 35.37,17.98" fill="#fff" stroke="#fff" stroke-width="1.5" stroke-linejoin="round"/><circle cx="20" cy="20" r="11.5" fill="#fff"/><circle cx="20" cy="20" r="5" fill="#005eb8"/></svg>
<div class="b" style="left:932.0px;top:1380.5px;width:63.0px;height:63.0px;border:2px solid #dcdcdc;border-radius:6px;background:#fff;"></div>
<svg class="i" style="left:958.0px;top:1405.0px" width="10" height="14" viewBox="0 0 10 14"><path d="M9 1 L1.5 7 L9 13 Z" fill="#555"/></svg>
<div class="b" style="left:1005.0px;top:1380.5px;width:250.0px;height:63.0px;border:2px solid #dcdcdc;border-radius:6px;background:#fff;"></div>
<div class="t" style="left:1032.0px;top:1400.0px;font-size:28.00px;color:#1f2329;transform:scaleX(1.0889);">12/12/2024</div>
<svg class="i" style="left:1209.5px;top:1396.0px" width="28" height="30" viewBox="0 0 28 30"><rect x="1.5" y="4" width="25" height="24" rx="1.5" fill="none" stroke="#9a9a9a" stroke-width="2.6"/><path d="M1.5 10 H26.5" stroke="#9a9a9a" stroke-width="2.4"/><path d="M8 0 V6 M20 0 V6" stroke="#9a9a9a" stroke-width="2.6"/><rect x="16" y="17" width="7" height="7" fill="#9a9a9a"/></svg>
<div class="b" style="left:1265.0px;top:1380.5px;width:278.0px;height:63.0px;border:2px solid #dcdcdc;border-radius:6px;background:#fff;"></div>
<div class="t" style="left:1291.0px;top:1400.0px;font-size:28.00px;color:#1f2329;transform:scaleX(1.0189);">05:04:38 AM</div>
<svg class="i" style="left:1497.5px;top:1398.0px" width="28" height="28" viewBox="0 0 28 28"><circle cx="14" cy="14" r="12.3" fill="none" stroke="#9a9a9a" stroke-width="2.4"/><path d="M14 6 V15 H21" fill="none" stroke="#9a9a9a" stroke-width="2.4"/></svg>
<div class="b" style="left:1613.0px;top:1380.5px;width:62.0px;height:63.0px;border:2px solid #dcdcdc;border-radius:6px;background:#fff;"></div>
<svg class="i" style="left:1627.0px;top:1395.0px" width="34" height="34" viewBox="0 0 34 34"><path d="M2 1 V33 H34" fill="none" stroke="#555" stroke-width="2"/><path d="M5 15 Q10 6 18 7 Q24 8 29 2" fill="none" stroke="#555" stroke-width="3"/><path d="M5 16 H31" stroke="#555" stroke-width="2"/><path d="M4 30 H9 V26 H14 V22 H19 V19 H27" fill="none" stroke="#555" stroke-width="2"/></svg>
<div class="b" style="left:1684.5px;top:1380.5px;width:206.8px;height:63.0px;border:2px solid #dcdcdc;border-radius:6px;background:#fff;"></div>
<div class="b" style="left:1828.0px;top:1383.0px;width:2.0px;height:58.0px;background:#dcdcdc;"></div>
<div class="t" style="left:1712.0px;top:1397.8px;font-size:28.00px;color:#1f2329;transform:scaleX(0.9690);">8 hours</div>
<svg class="i" style="left:1847.0px;top:1396.0px" width="26" height="30" viewBox="0 0 26 30"><path d="M7 13 V8 A6 6 0 0 1 19 8 V9" fill="none" stroke="#444" stroke-width="3"/><rect x="2.5" y="13" width="20" height="15" rx="2" fill="none" stroke="#444" stroke-width="3"/><circle cx="12.5" cy="20.5" r="2.3" fill="#444"/></svg>
<div class="b" style="left:1900.5px;top:1380.5px;width:63.0px;height:62.0px;border:2px solid #efefef;border-radius:6px;"></div>
<svg class="i" style="left:1915.0px;top:1398.0px" width="32" height="28" viewBox="0 0 32 28"><path d="M7 14 A11 11 0 1 1 10 21.5" fill="none" stroke="#cccccc" stroke-width="2.8"/><path d="M1.5 13 L7 18 L12 13 Z" fill="#ccc"/><path d="M18 8 V14.5 L23 18" fill="none" stroke="#ccc" stroke-width="2.6"/></svg>
<div class="b" style="left:2032.6px;top:1380.5px;width:250.4px;height:63.0px;border:2px solid #dcdcdc;border-radius:6px;background:#fff;"></div>
<div class="t" style="left:2059.0px;top:1400.0px;font-size:28.00px;color:#1f2329;transform:scaleX(1.0946);">12/12/2024</div>
<svg class="i" style="left:2237.5px;top:1396.0px" width="28" height="30" viewBox="0 0 28 30"><rect x="1.5" y="4" width="25" height="24" rx="1.5" fill="none" stroke="#9a9a9a" stroke-width="2.6"/><path d="M1.5 10 H26.5" stroke="#9a9a9a" stroke-width="2.4"/><path d="M8 0 V6 M20 0 V6" stroke="#9a9a9a" stroke-width="2.6"/><rect x="16" y="17" width="7" height="7" fill="#9a9a9a"/></svg>
<div class="b" style="left:2292.8px;top:1380.5px;width:278.2px;height:63.0px;border:2px solid #dcdcdc;border-radius:6px;background:#fff;"></div>
<div class="t" style="left:2318.0px;top:1400.0px;font-size:28.00px;color:#1f2329;transform:scaleX(1.0096);">01:04:38 PM</div>
<svg class="i" style="left:2525.5px;top:1398.0px" width="28" height="28" viewBox="0 0 28 28"><circle cx="14" cy="14" r="12.3" fill="none" stroke="#9a9a9a" stroke-width="2.4"/><path d="M14 6 V15 H21" fill="none" stroke="#9a9a9a" stroke-width="2.4"/></svg>
<div class="b" style="left:2580.7px;top:1380.5px;width:61.9px;height:63.0px;border:2px solid #dcdcdc;border-radius:6px;background:#fff;"></div>
<svg class="i" style="left:2606.0px;top:1405.0px" width="10" height="14" viewBox="0 0 10 14"><path d="M1 1 L8.5 7 L1 13 Z" fill="#555"/></svg>
<div class="b" style="left:932.0px;top:1596.5px;width:489.0px;height:47.0px;border:2px solid #dcdcdc;border-radius:6px;background:#fff;"></div>
<div class="b" style="left:998.0px;top:1599.0px;width:2.0px;height:42.0px;background:#dcdcdc;"></div>
<div class="b" style="left:1069.6px;top:1599.0px;width:2.0px;height:42.0px;background:#dcdcdc;"></div>
<div class="b" style="left:1141.5px;top:1599.0px;width:2.0px;height:42.0px;background:#dcdcdc;"></div>
<div class="b" style="left:1211.5px;top:1599.0px;width:2.0px;height:42.0px;background:#dcdcdc;"></div>
<div class="b" style="left:1282.0px;top:1599.0px;width:2.0px;height:42.0px;background:#dcdcdc;"></div>
<div class="b" style="left:1344.0px;top:1599.0px;width:2.0px;height:42.0px;background:#dcdcdc;"></div>
<div class="t" style="left:950.2px;top:1609.4px;font-size:24.00px;color:#1f2329;transform:scaleX(1.0365);">1D</div>
<div class="t" style="left:1017.0px;top:1609.4px;font-size:24.00px;color:#1f2329;transform:scaleX(1.0444);">1W</div>
<div class="t" style="left:1089.8px;top:1609.4px;font-size:24.00px;color:#1f2329;transform:scaleX(1.0318);">1M</div>
<div class="t" style="left:1159.8px;top:1609.4px;font-size:24.00px;color:#1f2329;transform:scaleX(1.0318);">3M</div>
<div class="t" style="left:1229.7px;top:1609.4px;font-size:24.00px;color:#1f2329;transform:scaleX(1.0588);">6M</div>
<div class="t" style="left:1300.5px;top:1609.4px;font-size:24.00px;color:#1f2329;transform:scaleX(0.9368);">1Y</div>
<div class="t" style="left:1362.4px;top:1609.4px;font-size:24.00px;color:#1f2329;transform:scaleX(0.9578);">ALL</div>
<div class="b" style="left:1454.6px;top:1596.5px;width:206.6px;height:47.0px;border:2px solid #dcdcdc;border-radius:6px;background:#fff;background:#eff4f9;"></div>
<div class="b" style="left:1614.0px;top:1599.0px;width:2.0px;height:42.0px;background:#dcdcdc;"></div>
<div class="b" style="left:1616.0px;top:1599.0px;width:43.0px;height:42.0px;background:#fff;border-radius:0 4px 4px 0;"></div>
<div class="t" style="left:1472.2px;top:1609.4px;font-size:24.00px;color:#0a5cb4;transform:scaleX(0.9637);">CUSTOM</div>
<svg class="i" style="left:1585.0px;top:1614.0px" width="20" height="12" viewBox="0 0 20 12"><path d="M1 10.5 L9 2 L17 10.5 Z" fill="#999"/></svg>
<svg class="i" style="left:1624.0px;top:1609.0px" width="26" height="22" viewBox="0 0 26 22"><rect x="4" y="4" width="19" height="15.5" rx="2" fill="none" stroke="#444" stroke-width="2.5"/><path d="M13.5 6.5 L11.5 8.5 H15.5 Z M13.5 16.5 L11.5 14.5 H15.5 Z M6.5 11.5 L8.5 9.5 V13.5 Z M20.5 11.5 L18.5 9.5 V13.5 Z" fill="#444"/></svg>
<div class="b" style="left:838.0px;top:874.0px;width:32.0px;height:104.0px;background:#fff;border:2px solid #dcdcdc;border-radius:6px;"></div>
<div class="b" style="left:840.0px;top:946.0px;width:28.0px;height:2.0px;background:#dcdcdc;"></div>
<div class="b" style="left:849.0px;top:888.0px;width:2.0px;height:44.0px;background:#888;"></div>
<div class="b" style="left:856.0px;top:888.0px;width:2.0px;height:44.0px;background:#888;"></div>
<svg class="i" style="left:845.0px;top:953.0px" width="18" height="18" viewBox="0 0 18 18"><path d="M3 3 L14 14 M14 3 L3 14" stroke="#999" stroke-width="1.8"/></svg>
<svg class="chart" width="2760" height="1800" viewBox="0 0 2760 1800">
<defs><clipPath id="pc"><rect x="932" y="351" width="1712" height="976"/></clipPath><clipPath id="nc"><rect x="932" y="1461" width="1708" height="59"/></clipPath></defs>
<rect x="933" y="350.0" width="1711" height="2" fill="#e6e6e6"/>
<rect x="933" y="484.2" width="1711" height="2" fill="#e6e6e6"/>
<rect x="933" y="693.9" width="1711" height="2" fill="#e6e6e6"/>
<rect x="933" y="903.6" width="1711" height="2" fill="#e6e6e6"/>
<rect x="933" y="1113.3" width="1711" height="2" fill="#e6e6e6"/>
<rect x="933" y="1323.0" width="1711" height="2" fill="#e6e6e6"/>
<rect x="1128.2" y="351" width="2" height="973" fill="#e6e6e6"/>
<rect x="1342.1" y="351" width="2" height="973" fill="#e6e6e6"/>
<rect x="1556.0" y="351" width="2" height="973" fill="#e6e6e6"/>
<rect x="1769.9" y="351" width="2" height="973" fill="#e6e6e6"/>
<rect x="1983.8" y="351" width="2" height="973" fill="#e6e6e6"/>
<rect x="2197.7" y="351" width="2" height="973" fill="#e6e6e6"/>
<rect x="2411.6" y="351" width="2" height="973" fill="#e6e6e6"/>
<rect x="2625.5" y="351" width="2" height="973" fill="#e6e6e6"/>
<g clip-path="url(#pc)" fill="none" stroke-linejoin="round">
<path d="M932.0 1274.7 L935.0 1274.8 L938.1 1274.7 L941.1 1257.7 L944.2 1267.9 L947.2 1251.8 L950.3 1251.7 L953.3 1255.1 L956.4 1239.4 L959.4 1246.8 L962.5 1232.5 L965.5 1237.2 L968.6 1232.3 L971.6 1219.5 L974.7 1205.0 L977.7 1218.3 L980.8 1211.4 L983.8 1196.8 L986.9 1184.4 L989.9 1189.3 L993.0 1189.4 L996.0 1182.5 L996.0 -773.0 L1032.6 -773.0 L1033.1 1324.0 L1067.6 1324.0 L1070.7 1326.8 L1073.8 1295.2 L1076.9 1301.5 L1080.0 1296.5 L1083.1 1288.4 L1086.2 1274.7 L1089.3 1252.5 L1092.4 1261.7 L1095.5 1242.9 L1098.6 1233.7 L1101.7 1233.6 L1104.8 1221.7 L1107.8 1228.0 L1110.9 1221.5 L1114.0 1211.3 L1117.1 1192.4 L1120.2 1193.6 L1123.3 1191.4 L1126.4 1179.0 L1129.5 1178.1 L1132.6 1178.2 L1135.7 1161.0 L1138.8 1160.6 L1141.9 1170.6 L1145.0 1162.4 L1146.0 -773.0 L1181.0 -773.0 L1181.5 1324.0 L1216.0 1324.0 L1219.0 1314.6 L1222.0 1296.5 L1225.0 1292.1 L1228.0 1296.0 L1231.0 1269.1 L1234.0 1284.8 L1237.0 1269.1 L1240.0 1252.5 L1243.0 1261.8 L1246.0 1245.7 L1249.0 1251.2 L1252.0 1227.6 L1255.0 1218.7 L1258.0 1218.0 L1261.0 1204.0 L1264.0 1213.9 L1267.0 1198.4 L1270.0 1196.3 L1273.0 1192.2 L1276.0 1191.4 L1279.0 1177.2 L1282.0 1171.1 L1285.0 1181.1 L1288.0 1173.8 L1291.0 1177.1 L1292.0 -773.0 L1328.8 -773.0 L1329.3 1324.0 L1363.8 1324.0 L1366.9 1310.9 L1370.0 1304.9 L1373.0 1288.2 L1376.1 1285.8 L1379.2 1293.4 L1382.3 1283.9 L1385.3 1269.6 L1388.4 1280.8 L1391.5 1262.6 L1394.6 1264.5 L1397.6 1260.1 L1400.7 1256.0 L1403.8 1231.2 L1406.9 1243.4 L1409.9 1235.2 L1413.0 1226.6 L1416.1 1209.0 L1419.2 1226.4 L1422.2 1212.4 L1425.3 1206.1 L1428.4 1193.7 L1431.5 1192.6 L1434.5 1188.9 L1437.6 1203.0 L1440.7 1196.0 L1441.7 -773.0 L1476.7 -773.0 L1477.2 1324.0 L1511.7 1324.0 L1514.8 1319.1 L1517.8 1296.3 L1520.9 1285.9 L1524.0 1299.8 L1527.0 1291.1 L1530.1 1281.9 L1533.2 1274.3 L1536.2 1260.1 L1539.3 1250.2 L1542.4 1252.3 L1545.4 1252.7 L1548.5 1235.0 L1551.6 1230.3 L1554.6 1219.1 L1557.7 1203.0 L1560.8 1204.9 L1563.8 1204.7 L1566.9 1197.4 L1570.0 1191.5 L1573.0 1204.7 L1576.1 1178.3 L1579.2 1178.7 L1582.2 1173.9 L1585.3 1182.9 L1586.3 -773.0 L1623.8 -773.0 L1624.3 1324.0 L1658.8 1324.0 L1661.8 1318.1 L1664.8 1309.2 L1667.8 1308.8 L1670.8 1286.0 L1673.8 1293.4 L1676.8 1285.3 L1679.8 1273.7 L1682.8 1267.4 L1685.8 1255.3 L1688.8 1256.0 L1691.8 1250.5 L1694.8 1239.7 L1697.8 1234.6 L1700.8 1221.3 L1703.8 1224.5 L1706.8 1195.7 L1709.8 1197.4 L1712.8 1205.0 L1715.8 1197.3 L1718.8 1190.3 L1721.8 1185.7 L1724.8 1188.5 L1727.8 1165.5 L1730.8 1158.8 L1733.8 1171.0 L1736.8 1168.9 L1737.8 -773.0 L1772.0 -773.0 L1772.5 1324.0 L1807.0 1324.0 L1810.0 1327.1 L1813.0 1318.6 L1816.0 1304.2 L1819.0 1298.6 L1822.0 1275.7 L1825.0 1286.5 L1828.0 1283.1 L1831.0 1250.8 L1834.0 1255.6 L1837.0 1259.4 L1840.0 1242.2 L1843.0 1250.0 L1846.0 1230.4 L1849.0 1212.4 L1852.0 1210.0 L1855.0 1209.3 L1858.0 1216.2 L1861.0 1208.6 L1864.0 1209.6 L1867.0 1188.9 L1870.0 1191.6 L1873.0 1181.5 L1876.0 1190.7 L1879.0 1191.0 L1882.0 1173.0 L1885.0 1180.4 L1886.0 -773.0 L1919.6 -773.0 L1920.1 1324.0 L1954.6 1324.0 L1957.6 1305.1 L1960.6 1297.3 L1963.7 1288.1 L1966.7 1281.6 L1969.7 1287.1 L1972.7 1270.8 L1975.8 1267.2 L1978.8 1268.2 L1981.8 1260.5 L1984.8 1246.2 L1987.9 1239.6 L1990.9 1220.8 L1993.9 1206.9 L1996.9 1214.3 L1999.9 1194.7 L2003.0 1187.4 L2006.0 1182.6 L2009.0 1193.4 L2012.0 1192.3 L2015.1 1187.4 L2018.1 1184.0 L2021.1 1179.9 L2024.1 1165.0 L2027.2 1154.6 L2030.2 1154.0 L2033.2 1162.0 L2034.2 -773.0 L2067.8 -773.0 L2068.3 1324.0 L2102.8 1324.0 L2105.9 1311.0 L2108.9 1298.3 L2112.0 1309.3 L2115.1 1285.3 L2118.2 1270.4 L2121.2 1266.0 L2124.3 1259.3 L2127.4 1259.2 L2130.4 1260.2 L2133.5 1236.6 L2136.6 1242.3 L2139.7 1223.1 L2142.7 1212.2 L2145.8 1222.0 L2148.9 1216.2 L2151.9 1196.0 L2155.0 1197.0 L2158.1 1207.5 L2161.1 1204.4 L2164.2 1199.9 L2167.3 1175.9 L2170.4 1175.7 L2173.4 1191.4 L2176.5 1180.6 L2177.5 -773.0 L2214.5 -773.0 L2215.0 1324.0 L2249.5 1324.0 L2252.6 1302.0 L2255.6 1302.0 L2258.7 1301.8 L2261.7 1288.1 L2264.8 1291.3 L2267.8 1286.4 L2270.9 1252.6 L2274.0 1253.7 L2277.0 1249.7 L2280.1 1231.4 L2283.1 1238.1 L2286.2 1219.4 L2289.2 1214.2 L2292.3 1224.7 L2295.4 1217.6 L2298.4 1210.7 L2301.5 1206.7 L2304.5 1192.1 L2307.6 1196.2 L2310.7 1187.4 L2313.7 1191.1 L2316.8 1166.1 L2319.8 1178.0 L2322.9 1172.3 L2325.9 1166.8 L2329.0 1167.8 L2330.0 -773.0 L2362.2 -773.0 L2362.7 1324.0 L2397.2 1324.0 L2400.3 1316.7 L2403.3 1293.9 L2406.4 1296.2 L2409.5 1286.5 L2412.5 1278.1 L2415.6 1283.5 L2418.6 1263.8 L2421.7 1262.8 L2424.8 1259.9 L2427.8 1230.7 L2430.9 1240.6 L2434.0 1225.3 L2437.0 1211.7 L2440.1 1209.9 L2443.2 1210.0 L2446.2 1198.8 L2449.3 1192.3 L2452.4 1180.8 L2455.4 1194.4 L2458.5 1177.6 L2461.5 1182.0 L2464.6 1177.7 L2467.7 1161.2 L2470.7 1166.1 L2473.8 1165.0 L2474.8 -773.0 L2510.4 -773.0 L2510.9 1324.0 L2545.4 1324.0 L2548.5 1307.5 L2551.5 1294.1 L2554.6 1297.9 L2557.7 1284.4 L2560.8 1278.8 L2563.8 1270.3 L2566.9 1257.3 L2570.0 1256.0 L2573.1 1246.2 L2576.1 1240.4 L2579.2 1220.7 L2582.3 1220.6 L2585.4 1209.3 L2588.4 1201.4 L2591.5 1214.2 L2594.6 1200.5 L2597.7 1185.0 L2600.7 1183.1 L2603.8 1198.1 L2606.9 1194.8 L2610.0 1182.9 L2613.0 1190.5 L2616.1 1177.6 L2617.1 -773.0 L2643.0 -773.0" stroke="#e8c567" stroke-width="2.3"/>
<path d="M932.0 367.0 L1032.0 439.0 L1124.0 531.0 L1180.0 599.0 L1257.0 686.0 L1292.0 733.0 L1328.0 780.0 L1376.0 840.0 L1381.9 847.5 L1389.8 857.7 L1399.3 869.8 L1409.8 883.2 L1420.6 897.0 L1431.3 910.6 L1441.3 923.2 L1450.0 934.0 L1457.3 943.0 L1463.7 950.8 L1469.6 957.9 L1475.2 964.6 L1480.9 971.3 L1487.1 978.3 L1494.0 986.1 L1502.0 995.0 L1511.2 1005.0 L1521.4 1015.8 L1532.2 1027.2 L1543.5 1039.0 L1555.1 1051.1 L1566.7 1063.2 L1578.0 1075.3 L1589.0 1087.0 L1599.5 1098.7 L1609.9 1110.5 L1620.1 1122.5 L1630.3 1134.4 L1640.5 1146.1 L1651.0 1157.6 L1661.7 1168.8 L1672.8 1179.4 L1684.2 1189.6 L1695.9 1199.5 L1707.8 1209.1 L1719.9 1218.5 L1732.2 1227.5 L1744.6 1236.1 L1757.2 1244.5 L1770.0 1252.5 L1783.2 1260.3 L1797.0 1267.9 L1811.1 1275.2 L1825.3 1282.2 L1839.3 1288.7 L1852.9 1294.7 L1865.9 1300.0 L1878.0 1304.7 L1889.4 1308.6 L1900.4 1311.6 L1910.9 1314.1 L1920.9 1316.0 L1930.4 1317.5 L1939.2 1318.8 L1947.3 1319.9 L1954.7 1321.0 L1960.9 1322.0 L1965.8 1322.7 L1969.7 1323.1 L1973.2 1323.3 L1976.5 1323.4 L1980.1 1323.3 L1984.3 1323.2 L1989.5 1323.0 L1995.5 1322.9 L2001.6 1323.0 L2008.1 1323.0 L2015.0 1322.9 L2022.4 1322.5 L2030.4 1321.6 L2039.2 1320.2 L2048.7 1318.0 L2059.4 1315.1 L2071.2 1311.7 L2083.8 1307.7 L2097.1 1303.2 L2110.5 1298.4 L2123.8 1293.1 L2136.8 1287.4 L2149.0 1281.4 L2160.4 1275.1 L2171.4 1268.3 L2182.0 1261.2 L2192.4 1253.6 L2203.0 1245.7 L2213.8 1237.4 L2225.0 1228.7 L2236.9 1219.7 L2249.8 1210.0 L2263.6 1199.5 L2278.0 1188.4 L2292.6 1177.1 L2307.0 1165.7 L2320.9 1154.5 L2333.8 1143.8 L2345.3 1133.8 L2355.1 1124.9 L2363.4 1117.1 L2370.6 1109.8 L2377.3 1102.7 L2383.9 1095.3 L2391.1 1087.1 L2399.2 1077.6 L2408.8 1066.5 L2419.7 1053.7 L2431.5 1039.7 L2443.9 1024.7 L2457.0 1008.8 L2470.6 992.2 L2484.6 974.9 L2498.9 957.3 L2513.5 939.4 L2529.4 919.8 L2547.3 897.8 L2566.1 874.5 L2585.1 851.1 L2603.2 828.7 L2619.6 808.4 L2633.4 791.3 L2643.6 778.7" stroke="#e79ac0" stroke-width="2.4"/>
<path d="M932.0 960.2 L934.0 941.3 L941.0 910.9 L944.0 909.0 L947.1 902.8 L950.1 889.6 L953.2 898.9 L956.2 894.5 L959.3 889.1 L962.3 896.8 L965.3 884.7 L968.4 878.2 L971.4 870.5 L974.5 886.4 L977.5 877.4 L980.6 880.0 L983.6 857.1 L986.7 857.1 L989.7 871.6 L992.7 842.7 L995.8 840.0 L998.8 845.2 L1001.9 843.0 L1004.9 852.3 L1008.0 852.9 L1011.0 836.4 L1013.0 1324.0 L1050.0 1324.0 L1053.0 1314.1 L1056.0 1319.2 L1059.0 1306.2 L1062.0 1295.6 L1065.0 1293.0 L1068.0 1270.9 L1071.0 1262.6 L1074.0 1241.5 L1077.0 1242.2 L1080.0 1229.5 L1083.0 1224.7 L1086.0 1210.8 L1089.0 1207.9 L1092.0 1204.3 L1095.0 1173.7 L1098.0 1164.7 L1101.0 1160.4 L1104.0 1155.3 L1107.0 1158.0 L1110.0 1151.6 L1113.0 1140.8 L1116.0 1138.3 L1119.0 1116.4 L1122.1 1107.6 L1125.2 1116.1 L1128.3 1102.5 L1131.4 1113.5 L1134.5 1096.5 L1137.6 1098.0 L1140.7 1119.6 L1143.8 1112.4 L1146.9 1091.8 L1150.1 1102.3 L1153.2 1086.9 L1156.3 1101.3 L1159.4 1108.7 L1162.5 1092.0 L1165.6 1086.5 L1168.7 1098.8 L1171.8 1102.3 L1174.9 1094.1 L1178.0 1088.1 L1181.1 1076.1 L1184.1 1075.2 L1187.2 1080.4 L1190.3 1065.9 L1193.3 1054.8 L1196.4 1039.7 L1199.5 1006.5 L1202.5 1002.5 L1205.6 977.0 L1208.7 963.4 L1211.7 954.8 L1214.8 931.3 L1217.9 935.6 L1220.9 919.0 L1224.0 920.3 L1227.0 928.5 L1230.1 917.9 L1233.1 921.2 L1236.2 917.4 L1239.2 896.0 L1242.2 898.2 L1245.3 909.5 L1248.3 891.4 L1251.4 907.5 L1254.4 900.1 L1257.4 885.3 L1260.5 888.8 L1263.5 901.2 L1266.6 874.7 L1269.6 893.5 L1272.6 890.0 L1275.7 873.7 L1278.7 883.5 L1281.8 882.1 L1284.8 885.8 L1287.8 883.1 L1290.9 867.3 L1293.9 874.3 L1297.0 862.2 L1300.0 862.7 L1301.0 1324.0 L1337.0 1324.0 L1340.1 1318.4 L1343.2 1306.5 L1346.3 1281.9 L1349.4 1286.7 L1352.5 1274.6 L1355.5 1256.4 L1358.6 1267.5 L1361.7 1258.9 L1364.8 1226.8 L1367.9 1220.1 L1371.0 1227.7 L1374.1 1220.1 L1377.2 1194.1 L1380.3 1178.7 L1383.4 1191.6 L1386.5 1159.5 L1389.5 1152.1 L1392.6 1151.0 L1395.7 1147.1 L1398.8 1147.1 L1401.9 1139.7 L1405.0 1116.4 L1408.0 1102.9 L1411.1 1121.7 L1414.1 1108.1 L1417.2 1119.3 L1420.2 1103.0 L1423.2 1108.2 L1426.3 1115.6 L1429.3 1117.9 L1432.4 1102.1 L1435.4 1118.9 L1438.4 1113.7 L1441.5 1103.7 L1444.5 1094.8 L1447.6 1100.4 L1450.6 1108.5 L1453.6 1090.3 L1456.7 1108.8 L1459.7 1113.0 L1462.8 1105.2 L1465.8 1099.4 L1468.8 1109.0 L1471.9 1104.9 L1474.9 1098.8 L1478.0 1092.3 L1481.0 1093.3 L1484.1 1098.2 L1487.2 1084.0 L1490.2 1057.9 L1493.3 1037.0 L1496.4 1021.9 L1499.5 997.4 L1502.6 976.0 L1505.7 963.6 L1508.8 946.9 L1511.8 932.6 L1514.9 904.0 L1518.0 909.8 L1521.0 903.0 L1524.1 894.5 L1527.1 918.8 L1530.2 900.7 L1533.2 903.5 L1536.3 895.4 L1539.3 905.2 L1542.3 885.3 L1545.4 909.1 L1548.4 894.9 L1551.5 888.3 L1554.5 882.5 L1557.6 885.6 L1560.6 885.1 L1563.7 881.3 L1566.7 876.6 L1569.7 890.6 L1572.8 880.2 L1575.8 872.9 L1578.9 872.4 L1581.9 883.4 L1585.0 871.8 L1588.0 878.4 L1590.0 1324.0 L1624.0 1324.0 L1627.0 1304.6 L1630.0 1304.8 L1633.0 1294.8 L1636.0 1293.6 L1639.0 1279.1 L1642.0 1269.8 L1645.0 1277.2 L1648.0 1251.9 L1651.0 1232.8 L1654.0 1227.7 L1657.0 1223.8 L1660.0 1225.5 L1663.0 1206.6 L1666.0 1202.7 L1669.0 1198.5 L1672.0 1178.0 L1675.0 1192.2 L1678.0 1163.7 L1681.0 1176.8 L1684.0 1151.2 L1687.0 1145.8 L1690.1 1145.0 L1693.1 1150.6 L1696.2 1136.6 L1699.3 1140.9 L1702.4 1136.4 L1705.4 1126.8 L1708.5 1143.7 L1711.6 1149.1 L1714.7 1140.0 L1717.7 1128.5 L1720.8 1140.2 L1723.9 1139.8 L1727.0 1118.5 L1730.0 1124.0 L1733.1 1128.7 L1736.2 1115.2 L1739.3 1129.3 L1742.3 1118.9 L1745.4 1130.4 L1748.5 1122.8 L1751.6 1111.3 L1754.6 1107.1 L1757.7 1106.8 L1760.8 1119.1 L1763.9 1112.4 L1766.9 1118.4 L1770.0 1112.2 L1773.1 1114.8 L1776.2 1091.7 L1779.3 1060.8 L1782.4 1031.8 L1785.6 1004.2 L1788.7 970.3 L1791.8 961.5 L1794.9 948.6 L1798.0 936.1 L1801.1 935.5 L1804.2 938.4 L1807.2 938.2 L1810.3 930.8 L1813.4 923.2 L1816.5 924.8 L1819.5 927.8 L1822.6 911.6 L1825.7 905.9 L1828.8 918.4 L1831.8 926.8 L1834.9 926.1 L1838.0 901.3 L1841.1 922.0 L1844.2 901.9 L1847.2 903.8 L1850.3 909.0 L1853.4 894.0 L1856.5 913.2 L1859.5 908.1 L1862.6 897.5 L1865.7 907.3 L1868.8 883.5 L1871.8 897.7 L1874.9 898.5 L1878.0 886.8 L1879.0 1324.0 L1915.0 1324.0 L1918.0 1327.7 L1921.1 1300.4 L1924.1 1295.9 L1927.2 1280.6 L1930.2 1269.9 L1933.3 1255.5 L1936.3 1241.1 L1939.4 1239.4 L1942.4 1244.0 L1945.5 1225.9 L1948.5 1224.9 L1951.6 1220.0 L1954.6 1196.3 L1957.7 1179.2 L1960.7 1185.3 L1963.8 1172.7 L1966.8 1160.6 L1969.9 1140.1 L1972.9 1135.6 L1976.0 1122.9 L1979.0 1116.4 L1982.0 1108.2 L1985.0 1116.8 L1988.0 1104.7 L1991.0 1100.4 L1994.0 1121.5 L1997.0 1097.2 L2000.0 1101.7 L2003.0 1116.6 L2006.0 1106.6 L2009.0 1100.7 L2012.0 1091.7 L2015.0 1105.0 L2018.0 1098.5 L2021.0 1088.8 L2024.0 1089.8 L2027.0 1084.6 L2030.0 1096.5 L2033.0 1090.1 L2036.0 1101.1 L2039.0 1085.7 L2042.0 1081.9 L2045.0 1085.5 L2048.0 1088.1 L2051.2 1080.8 L2054.3 1084.1 L2057.5 1057.0 L2060.6 1039.1 L2063.8 1020.2 L2066.9 1008.9 L2070.1 981.9 L2073.2 971.3 L2076.4 939.4 L2079.5 924.5 L2082.7 923.4 L2085.8 921.5 L2089.0 909.8 L2092.1 909.1 L2095.2 903.9 L2098.2 895.6 L2101.3 901.0 L2104.4 911.2 L2107.5 887.6 L2110.6 905.6 L2113.6 883.2 L2116.7 898.0 L2119.8 891.3 L2122.9 876.6 L2126.0 892.0 L2129.0 889.4 L2132.1 877.1 L2135.2 869.1 L2138.3 863.7 L2141.4 865.5 L2144.4 856.2 L2147.5 866.2 L2150.6 851.5 L2153.7 872.7 L2156.8 866.7 L2159.8 856.1 L2162.9 860.2 L2166.0 852.2 L2168.0 1324.0 L2205.0 1324.0 L2208.0 1308.1 L2211.0 1301.8 L2214.0 1296.2 L2217.0 1277.6 L2220.0 1277.1 L2223.0 1275.5 L2226.0 1264.4 L2229.0 1241.4 L2232.0 1230.8 L2235.0 1242.5 L2238.0 1214.2 L2241.0 1201.6 L2244.0 1205.9 L2247.0 1195.4 L2250.0 1197.6 L2253.0 1178.5 L2256.0 1170.5 L2259.0 1158.4 L2262.0 1166.7 L2265.0 1129.4 L2268.0 1134.0 L2271.0 1128.4 L2274.0 1116.4 L2277.0 1107.4 L2280.1 1113.2 L2283.1 1114.3 L2286.2 1108.1 L2289.2 1124.4 L2292.2 1110.7 L2295.3 1113.4 L2298.3 1097.8 L2301.3 1098.0 L2304.4 1115.0 L2307.4 1108.7 L2310.5 1117.4 L2313.5 1108.2 L2316.5 1097.1 L2319.6 1094.0 L2322.6 1104.8 L2325.7 1108.4 L2328.7 1111.0 L2331.7 1098.6 L2334.8 1089.5 L2337.8 1110.4 L2340.8 1091.9 L2343.9 1111.8 L2346.9 1106.3 L2350.0 1104.7 L2353.0 1096.5 L2356.2 1087.8 L2359.4 1082.5 L2362.6 1061.2 L2365.8 1029.4 L2369.0 1011.8 L2372.2 969.3 L2375.4 956.5 L2378.6 927.4 L2381.8 919.8 L2385.0 909.8 L2388.1 916.1 L2391.2 905.1 L2394.3 905.7 L2397.3 905.4 L2400.4 902.4 L2403.5 897.3 L2406.6 905.4 L2409.7 902.2 L2412.8 888.6 L2415.9 886.5 L2419.0 887.5 L2422.0 876.7 L2425.1 881.3 L2428.2 872.7 L2431.3 887.7 L2434.4 871.9 L2437.5 868.1 L2440.6 863.6 L2443.7 877.6 L2446.7 875.7 L2449.8 857.2 L2452.9 874.4 L2456.0 864.8 L2457.0 1324.0 L2493.0 1324.0 L2496.0 1300.0 L2499.0 1294.3 L2502.0 1307.9 L2505.0 1295.7 L2508.0 1272.1 L2511.0 1277.1 L2514.0 1272.9 L2517.0 1241.8 L2520.0 1245.1 L2523.0 1225.0 L2526.0 1235.9 L2529.0 1218.6 L2532.0 1201.1 L2535.0 1212.1 L2538.0 1197.6 L2541.0 1174.1 L2544.0 1158.2 L2547.0 1147.5 L2550.0 1164.0 L2553.0 1143.3 L2556.0 1126.7 L2559.0 1125.3 L2562.0 1116.4 L2565.0 1110.0 L2568.1 1122.3 L2571.1 1124.2 L2574.2 1122.0 L2577.2 1122.6 L2580.3 1107.3 L2583.3 1107.0 L2586.4 1104.2 L2589.4 1114.5 L2592.5 1112.1 L2595.5 1110.3 L2598.5 1091.7 L2601.6 1086.3 L2604.6 1086.7 L2607.7 1108.1 L2610.7 1107.8 L2613.8 1082.2 L2616.8 1094.3 L2619.9 1084.7 L2622.9 1095.4 L2626.0 1090.3 L2629.0 1088.1 L2636.0 1098.6 L2643.0 1077.6" stroke="#006792" stroke-width="2.3"/>
<path d="M932.0 946.5 L936.0 915.1 L944.0 880.5 L947.0 866.9 L950.1 864.3 L953.1 863.8 L956.2 883.8 L959.2 868.0 L962.3 870.6 L965.3 865.7 L968.4 874.5 L971.4 870.9 L974.5 862.0 L977.5 866.1 L980.5 857.7 L983.6 867.4 L986.6 863.8 L989.7 844.7 L992.7 850.6 L995.8 846.1 L998.8 838.1 L1001.9 846.3 L1004.9 852.5 L1008.0 830.7 L1011.0 836.4 L1013.0 1324.0 L1050.0 1324.0 L1053.0 1312.1 L1056.0 1300.8 L1059.0 1292.6 L1062.0 1272.9 L1065.0 1281.8 L1068.0 1260.7 L1071.0 1263.2 L1074.0 1247.8 L1077.0 1235.9 L1080.0 1237.0 L1083.0 1234.6 L1086.0 1213.7 L1089.0 1197.2 L1092.0 1191.7 L1095.0 1186.8 L1098.0 1171.7 L1101.0 1176.2 L1104.0 1167.1 L1107.0 1153.5 L1110.0 1129.4 L1113.0 1138.8 L1116.0 1132.0 L1119.0 1111.2 L1122.1 1120.6 L1125.2 1120.7 L1128.3 1112.8 L1131.4 1103.2 L1134.5 1095.0 L1137.6 1106.8 L1140.7 1104.3 L1143.8 1105.0 L1146.9 1103.1 L1150.1 1088.7 L1153.2 1093.4 L1156.3 1099.9 L1159.4 1102.5 L1162.5 1082.6 L1165.6 1083.2 L1168.7 1078.4 L1171.8 1093.0 L1174.9 1083.1 L1178.0 1082.8 L1181.1 1071.9 L1184.1 1073.6 L1187.2 1057.1 L1190.3 1062.3 L1193.3 1030.5 L1196.4 1034.6 L1199.5 1009.6 L1202.5 1000.6 L1205.6 966.3 L1208.7 952.9 L1211.7 932.5 L1214.8 924.5 L1217.9 912.5 L1220.9 916.1 L1224.0 915.1 L1227.0 899.5 L1230.1 903.7 L1233.1 912.4 L1236.2 892.9 L1239.2 906.9 L1242.2 909.6 L1245.3 910.5 L1248.3 897.6 L1251.4 902.6 L1254.4 880.2 L1257.4 877.4 L1260.5 895.1 L1263.5 895.9 L1266.6 882.0 L1269.6 889.5 L1272.6 877.0 L1275.7 867.3 L1278.7 880.3 L1281.8 873.4 L1284.8 858.0 L1287.8 868.2 L1290.9 868.6 L1293.9 851.3 L1297.0 851.2 L1300.0 857.4 L1301.0 1324.0 L1337.0 1324.0 L1340.1 1302.5 L1343.2 1299.0 L1346.3 1297.6 L1349.4 1279.5 L1352.5 1265.7 L1355.5 1261.8 L1358.6 1264.1 L1361.7 1252.7 L1364.8 1239.6 L1367.9 1219.1 L1371.0 1215.9 L1374.1 1206.4 L1377.2 1188.4 L1380.3 1200.3 L1383.4 1174.9 L1386.5 1174.2 L1389.5 1157.7 L1392.6 1139.8 L1395.7 1147.7 L1398.8 1117.0 L1401.9 1133.5 L1405.0 1111.2 L1408.0 1108.3 L1411.1 1107.7 L1414.1 1115.0 L1417.2 1105.0 L1420.2 1106.3 L1423.2 1105.7 L1426.3 1097.3 L1429.3 1115.6 L1432.4 1104.3 L1435.4 1092.0 L1438.4 1108.5 L1441.5 1087.6 L1444.5 1104.5 L1447.6 1090.4 L1450.6 1103.1 L1453.6 1094.4 L1456.7 1094.0 L1459.7 1102.2 L1462.8 1084.2 L1465.8 1089.0 L1468.8 1082.2 L1471.9 1085.2 L1474.9 1083.6 L1478.0 1083.3 L1481.0 1082.8 L1484.1 1084.1 L1487.2 1061.9 L1490.2 1065.0 L1493.3 1028.8 L1496.4 1006.9 L1499.5 991.1 L1502.6 961.3 L1505.7 941.4 L1508.8 923.9 L1511.8 916.2 L1514.9 906.4 L1518.0 899.4 L1521.0 901.2 L1524.1 900.2 L1527.1 880.0 L1530.2 894.6 L1533.2 891.0 L1536.3 887.9 L1539.3 874.8 L1542.3 881.7 L1545.4 877.4 L1548.4 883.2 L1551.5 880.3 L1554.5 883.2 L1557.6 877.4 L1560.6 873.9 L1563.7 855.6 L1566.7 862.8 L1569.7 871.2 L1572.8 859.3 L1575.8 866.4 L1578.9 852.0 L1581.9 853.1 L1585.0 839.4 L1588.0 846.9 L1590.0 1324.0 L1624.0 1324.0 L1627.0 1321.1 L1630.0 1293.2 L1633.0 1301.2 L1636.0 1269.0 L1639.0 1269.3 L1642.0 1276.9 L1645.0 1243.8 L1648.0 1249.6 L1651.0 1236.9 L1654.0 1233.2 L1657.0 1202.4 L1660.0 1214.7 L1663.0 1185.1 L1666.0 1185.2 L1669.0 1166.6 L1672.0 1168.0 L1675.0 1164.3 L1678.0 1129.1 L1681.0 1126.8 L1684.0 1131.2 L1687.0 1111.2 L1690.1 1096.9 L1693.1 1097.3 L1696.2 1115.8 L1699.3 1119.0 L1702.4 1101.5 L1705.4 1113.1 L1708.5 1095.6 L1711.6 1101.4 L1714.7 1093.6 L1717.7 1096.0 L1720.8 1089.3 L1723.9 1086.5 L1727.0 1091.2 L1730.0 1090.2 L1733.1 1096.1 L1736.2 1100.0 L1739.3 1099.8 L1742.3 1077.7 L1745.4 1094.1 L1748.5 1086.7 L1751.6 1088.4 L1754.6 1078.8 L1757.7 1079.9 L1760.8 1069.7 L1763.9 1079.9 L1766.9 1080.6 L1770.0 1075.5 L1773.1 1067.2 L1776.2 1050.9 L1779.3 1025.1 L1782.4 1011.6 L1785.6 970.5 L1788.7 941.5 L1791.8 919.6 L1794.9 923.9 L1798.0 910.9 L1801.1 912.1 L1804.2 899.3 L1807.2 895.7 L1810.3 915.2 L1813.4 903.5 L1816.5 892.4 L1819.5 889.5 L1822.6 893.5 L1825.7 900.3 L1828.8 892.9 L1831.8 900.3 L1834.9 891.2 L1838.0 886.1 L1841.1 873.3 L1844.2 877.6 L1847.2 880.3 L1850.3 882.9 L1853.4 878.9 L1856.5 867.2 L1859.5 871.2 L1862.6 876.6 L1865.7 856.9 L1868.8 861.5 L1871.8 848.8 L1874.9 858.5 L1878.0 857.4 L1879.0 1324.0 L1915.0 1324.0 L1918.0 1310.2 L1921.1 1305.9 L1924.1 1290.3 L1927.2 1270.9 L1930.2 1258.9 L1933.3 1258.4 L1936.3 1255.1 L1939.4 1256.0 L1942.4 1222.6 L1945.5 1225.9 L1948.5 1216.0 L1951.6 1215.7 L1954.6 1206.2 L1957.7 1185.4 L1960.7 1157.7 L1963.8 1154.6 L1966.8 1145.4 L1969.9 1136.5 L1972.9 1138.2 L1976.0 1131.2 L1979.0 1111.2 L1982.0 1107.1 L1985.0 1120.6 L1988.0 1105.1 L1991.0 1105.8 L1994.0 1103.8 L1997.0 1114.1 L2000.0 1114.3 L2003.0 1102.0 L2006.0 1109.7 L2009.0 1095.0 L2012.0 1102.8 L2015.0 1093.1 L2018.0 1088.3 L2021.0 1091.0 L2024.0 1091.8 L2027.0 1099.7 L2030.0 1094.4 L2033.0 1076.0 L2036.0 1094.1 L2039.0 1092.4 L2042.0 1085.5 L2045.0 1082.8 L2048.0 1082.8 L2051.2 1073.9 L2054.3 1077.1 L2057.5 1050.3 L2060.6 1054.8 L2063.8 1019.0 L2066.9 1002.9 L2070.1 974.2 L2073.2 969.7 L2076.4 939.0 L2079.5 917.3 L2082.7 911.2 L2085.8 915.6 L2089.0 904.6 L2092.1 891.2 L2095.2 887.9 L2098.2 909.3 L2101.3 887.8 L2104.4 906.2 L2107.5 904.2 L2110.6 882.7 L2113.6 882.8 L2116.7 874.4 L2119.8 881.3 L2122.9 882.6 L2126.0 887.2 L2129.0 877.0 L2132.1 863.6 L2135.2 871.0 L2138.3 862.8 L2141.4 879.3 L2144.4 862.7 L2147.5 860.8 L2150.6 876.9 L2153.7 854.5 L2156.8 870.1 L2159.8 867.0 L2162.9 869.3 L2166.0 855.3 L2168.0 1324.0 L2205.0 1324.0 L2208.0 1309.9 L2211.0 1316.2 L2214.0 1282.0 L2217.0 1302.0 L2220.0 1268.4 L2223.0 1260.7 L2226.0 1257.1 L2229.0 1247.8 L2232.0 1231.8 L2235.0 1227.4 L2238.0 1233.0 L2241.0 1204.0 L2244.0 1208.1 L2247.0 1191.9 L2250.0 1184.8 L2253.0 1163.8 L2256.0 1169.2 L2259.0 1146.8 L2262.0 1160.7 L2265.0 1144.1 L2268.0 1124.5 L2271.0 1117.1 L2274.0 1111.2 L2277.0 1100.7 L2280.1 1116.3 L2283.1 1098.6 L2286.2 1097.4 L2289.2 1113.8 L2292.2 1112.5 L2295.3 1099.0 L2298.3 1086.9 L2301.3 1095.4 L2304.4 1099.0 L2307.4 1095.4 L2310.5 1085.8 L2313.5 1092.2 L2316.5 1090.4 L2319.6 1087.4 L2322.6 1076.8 L2325.7 1079.0 L2328.7 1076.5 L2331.7 1090.7 L2334.8 1080.2 L2337.8 1072.7 L2340.8 1074.2 L2343.9 1066.4 L2346.9 1066.0 L2350.0 1086.0 L2353.0 1074.5 L2356.2 1069.6 L2359.4 1059.3 L2362.6 1041.6 L2365.8 1008.5 L2369.0 968.5 L2372.2 943.7 L2375.4 931.7 L2378.6 907.4 L2381.8 891.1 L2385.0 883.6 L2388.1 871.3 L2391.2 881.1 L2394.3 887.4 L2397.3 875.0 L2400.4 881.4 L2403.5 885.3 L2406.6 868.3 L2409.7 855.7 L2412.8 859.7 L2415.9 859.0 L2419.0 873.0 L2422.0 860.1 L2425.1 856.2 L2428.2 851.0 L2431.3 857.7 L2434.4 866.6 L2437.5 841.0 L2440.6 857.2 L2443.7 842.5 L2446.7 848.1 L2449.8 837.7 L2452.9 847.9 L2456.0 841.7 L2457.0 1324.0 L2493.0 1324.0 L2496.0 1327.0 L2499.0 1307.7 L2502.0 1296.8 L2505.0 1278.2 L2508.0 1280.6 L2511.0 1263.5 L2514.0 1262.9 L2517.0 1243.0 L2520.0 1250.5 L2523.0 1220.1 L2526.0 1208.9 L2529.0 1227.2 L2532.0 1192.9 L2535.0 1186.1 L2538.0 1179.4 L2541.0 1187.8 L2544.0 1159.7 L2547.0 1149.3 L2550.0 1144.4 L2553.0 1125.0 L2556.0 1116.3 L2559.0 1116.4 L2562.0 1111.2 L2565.0 1098.0 L2568.1 1117.8 L2571.1 1112.1 L2574.2 1104.2 L2577.2 1102.9 L2580.3 1089.7 L2583.3 1096.8 L2586.4 1095.6 L2589.4 1094.1 L2592.5 1083.8 L2595.5 1097.1 L2598.5 1086.3 L2601.6 1088.6 L2604.6 1092.5 L2607.7 1092.7 L2610.7 1096.2 L2613.8 1098.6 L2616.8 1088.2 L2619.9 1087.6 L2622.9 1092.1 L2626.0 1079.5 L2629.0 1077.6 L2634.0 1077.6 L2638.0 1056.6 L2643.0 1030.4" stroke="#c4055e" stroke-width="2.3"/>
</g>
<rect x="931" y="350" width="2.2" height="975" fill="#006792"/>
<rect x="921" y="349.8" width="11" height="2.4" fill="#006792"/>
<rect x="921" y="484.0" width="11" height="2.4" fill="#006792"/>
<rect x="921" y="693.7" width="11" height="2.4" fill="#006792"/>
<rect x="921" y="903.4" width="11" height="2.4" fill="#006792"/>
<rect x="921" y="1113.1" width="11" height="2.4" fill="#006792"/>
<rect x="921" y="1322.8" width="11" height="2.4" fill="#006792"/>
<rect x="932" y="1330" width="1712" height="3" fill="#222"/>
<rect x="931" y="1330" width="3" height="15" fill="#222"/>
<rect x="2641" y="1330" width="3" height="15" fill="#222"/>
<rect x="1127.7" y="1330" width="3" height="15" fill="#222"/>
<rect x="1341.6" y="1330" width="3" height="15" fill="#222"/>
<rect x="1555.5" y="1330" width="3" height="15" fill="#222"/>
<rect x="1769.4" y="1330" width="3" height="15" fill="#222"/>
<rect x="1983.3" y="1330" width="3" height="15" fill="#222"/>
<rect x="2197.2" y="1330" width="3" height="15" fill="#222"/>
<rect x="2411.1" y="1330" width="3" height="15" fill="#222"/>
<rect x="2625.0" y="1330" width="3" height="15" fill="#222"/>
<rect x="932" y="1459" width="1710" height="2" fill="#d8d8d8"/>
<g clip-path="url(#nc)">
<path d="M933.7 1515.5 L939.2 1508.2 L943.3 1516.1 L948.1 1466.3 L953.7 1516.4 L960.2 1465.1 L965.8 1516.7 L971.2 1509.7 L976.1 1514.1 L982.0 1466.7 L988.2 1515.2 L994.7 1463.4 L998.5 1513.1 L1004.1 1464.2 L1008.6 1515.6 L1013.9 1466.6 L1020.7 1513.6 L1026.3 1463.7 L1033.2 1513.4 L1039.1 1463.8 L1044.3 1509.1 L1051.3 1463.4 L1055.9 1516.4 L1062.0 1496.2 L1065.2 1514.1 L1071.7 1466.9 L1078.7 1495.4 L1081.8 1463.8 L1087.3 1509.9 L1091.5 1466.8 L1096.1 1515.2 L1101.6 1465.4 L1107.1 1513.2 L1111.8 1465.9 L1116.0 1513.1 L1121.2 1463.0 L1126.6 1516.9 L1132.1 1463.2 L1136.9 1514.3 L1142.8 1466.3 L1148.5 1513.1 L1153.3 1465.4 L1157.8 1515.7 L1163.1 1464.2 L1169.2 1516.9 L1175.2 1464.2 L1181.4 1516.0 L1186.1 1465.8 L1190.4 1515.7 L1195.2 1466.4 L1199.5 1514.4 L1204.3 1463.9 L1209.4 1516.2 L1215.8 1463.7 L1222.0 1514.4 L1226.4 1463.5 L1232.6 1515.9 L1237.2 1464.7 L1243.9 1513.9 L1250.4 1466.9 L1257.2 1513.3 L1263.2 1466.3 L1268.3 1515.8 L1272.2 1463.3 L1276.4 1511.8 L1282.1 1466.7 L1288.7 1503.2 L1292.4 1464.2 L1297.5 1515.3 L1303.0 1464.4 L1309.4 1515.1 L1313.8 1463.8 L1320.1 1516.3 L1326.8 1466.2 L1329.8 1514.5 L1333.0 1464.1 L1338.1 1515.3 L1344.2 1469.9 L1347.7 1516.7 L1354.1 1463.3 L1358.4 1515.7 L1364.0 1465.3 L1367.8 1515.7 L1373.0 1465.9 L1376.3 1516.3 L1381.7 1466.1 L1387.9 1514.5 L1392.4 1465.0 L1397.1 1514.2 L1401.1 1465.1 L1404.4 1515.3 L1410.9 1466.7 L1417.5 1513.8 L1422.3 1463.5 L1428.0 1513.5 L1433.6 1465.9 L1437.1 1470.7 L1443.2 1463.2 L1446.6 1513.5 L1449.6 1466.4 L1456.0 1514.3 L1462.8 1465.3 L1466.0 1513.9 L1471.8 1463.4 L1478.6 1516.8 L1483.8 1466.3 L1487.6 1516.0 L1493.6 1464.6 L1498.2 1515.6 L1501.5 1465.0 L1506.1 1514.0 L1511.9 1466.0 L1517.0 1515.1 L1523.6 1463.6 L1529.6 1513.3 L1534.3 1465.9 L1538.4 1516.2 L1542.7 1463.9 L1549.5 1515.8 L1554.1 1466.4 L1558.2 1488.9 L1562.7 1463.7 L1567.0 1513.9 L1574.0 1464.9 L1578.8 1513.7 L1584.1 1464.9 L1590.5 1515.4 L1597.3 1464.9 L1601.3 1514.1 L1608.1 1466.4 L1611.9 1516.0 L1617.7 1466.4 L1621.7 1513.5 L1626.4 1465.9 L1629.8 1513.7 L1634.2 1465.3 L1637.2 1515.7 L1642.2 1463.8 L1649.0 1515.4 L1652.5 1464.1 L1655.9 1513.5 L1659.3 1466.8 L1665.4 1514.0 L1671.1 1465.6 L1675.2 1514.0 L1680.9 1465.1 L1685.8 1515.6 L1691.5 1465.3 L1697.1 1514.5 L1703.7 1465.6 L1710.4 1516.4 L1716.3 1465.4 L1721.9 1515.2 L1725.6 1463.3 L1731.6 1514.8 L1736.0 1464.1 L1742.5 1516.8 L1746.5 1466.1 L1750.9 1515.4 L1756.9 1464.4 L1760.4 1515.9 L1763.8 1466.1 L1767.6 1516.2 L1773.6 1466.3 L1778.9 1516.4 L1782.7 1465.1 L1786.5 1516.0 L1789.6 1466.2 L1796.4 1515.5 L1801.8 1465.5 L1807.5 1515.8 L1812.4 1465.4 L1815.4 1513.9 L1820.4 1465.1 L1824.2 1490.0 L1829.8 1464.8 L1836.6 1513.4 L1842.8 1482.4 L1846.7 1516.7 L1853.4 1464.3 L1859.2 1516.5 L1864.6 1466.7 L1870.6 1515.6 L1877.3 1466.4 L1883.3 1515.1 L1886.5 1463.3 L1890.1 1515.0 L1895.3 1464.7 L1899.5 1515.1 L1904.1 1463.7 L1910.0 1515.5 L1915.1 1465.4 L1918.1 1516.2 L1921.7 1464.8 L1925.5 1516.3 L1929.2 1463.1 L1932.9 1464.2 L1937.7 1464.6 L1940.9 1515.4 L1944.0 1466.9 L1947.4 1515.1 L1952.9 1464.4 L1956.1 1514.1 L1962.2 1464.9 L1966.4 1516.0 L1972.7 1465.5 L1976.0 1514.3 L1981.4 1467.9 L1985.1 1498.3 L1991.7 1463.8 L1996.6 1513.8 L2003.4 1463.1 L2008.8 1513.2 L2013.0 1466.4 L2017.5 1515.7 L2024.2 1463.7 L2030.2 1513.7 L2036.9 1464.5 L2040.8 1513.9 L2044.9 1463.7 L2050.3 1514.2 L2055.2 1463.6 L2058.3 1515.1 L2064.0 1463.4 L2070.4 1514.4 L2076.9 1464.8 L2082.8 1515.7 L2086.1 1464.6 L2089.5 1514.7 L2092.9 1465.6 L2096.1 1516.4 L2101.4 1463.0 L2108.3 1516.1 L2112.9 1466.1 L2119.1 1514.9 L2122.8 1463.3 L2126.3 1516.9 L2130.1 1466.6 L2134.9 1516.1 L2140.4 1465.6 L2146.9 1515.6 L2151.7 1463.4 L2157.0 1513.7 L2162.2 1464.9 L2165.5 1515.6 L2168.8 1465.2 L2173.5 1514.4 L2177.3 1464.4 L2181.7 1515.3 L2185.5 1463.7 L2191.4 1513.5 L2196.9 1466.7 L2201.6 1513.2 L2208.4 1464.9 L2213.0 1513.0 L2217.2 1466.7 L2220.5 1514.1 L2225.6 1503.2 L2229.7 1515.3 L2235.7 1466.0 L2239.1 1515.8 L2242.4 1463.6 L2248.2 1513.1 L2254.7 1464.5 L2259.0 1515.1 L2264.1 1464.4 L2268.3 1515.1 L2274.5 1464.2 L2280.7 1517.0 L2285.9 1465.1 L2289.1 1516.2 L2293.9 1466.9 L2300.8 1516.9 L2303.9 1464.7 L2307.1 1514.8 L2311.4 1464.0 L2316.0 1486.2 L2321.5 1465.7 L2327.8 1516.0 L2333.8 1466.2 L2340.1 1514.8 L2343.8 1463.1 L2350.4 1513.4 L2356.0 1466.7 L2361.5 1515.3 L2365.1 1463.7 L2372.1 1514.8 L2376.5 1464.8 L2381.3 1513.2 L2385.6 1465.1 L2392.0 1513.7 L2397.4 1463.1 L2402.6 1515.0 L2408.5 1466.6 L2414.2 1515.5 L2420.7 1466.8 L2424.5 1513.3 L2429.1 1466.3 L2433.1 1513.2 L2437.4 1464.6 L2440.9 1516.0 L2444.2 1463.9 L2447.6 1514.9 L2453.9 1465.5 L2456.9 1515.9 L2460.2 1464.1 L2464.3 1475.7 L2471.1 1463.6 L2474.8 1513.0 L2480.4 1504.0 L2484.1 1516.2 L2490.6 1463.2 L2495.8 1515.5 L2500.3 1467.0 L2503.8 1516.4 L2508.3 1473.4 L2515.0 1513.0 L2519.0 1464.4 L2523.9 1514.2 L2527.0 1464.4 L2533.1 1514.7 L2538.3 1464.8 L2544.6 1516.2 L2551.4 1466.4 L2558.2 1513.6 L2562.3 1515.8 L2566.9 1513.5 L2570.0 1466.5 L2576.9 1514.3 L2583.0 1463.4 L2587.8 1516.4 L2592.1 1465.0 L2596.3 1515.6 L2603.3 1466.7 L2609.6 1515.9 L2613.7 1463.5 L2619.6 1515.6 L2623.7 1466.9 L2628.6 1514.9 L2635.6 1465.1" stroke="#006792" stroke-width="1.2" fill="none" opacity="0.6"/>
<path d="M935.9 1516.8 L942.2 1465.9 L946.4 1514.6 L951.8 1463.6 L956.3 1514.1 L963.1 1465.2 L967.2 1488.1 L971.5 1464.5 L976.6 1514.8 L979.7 1464.3 L984.7 1513.0 L988.5 1466.6 L994.4 1513.4 L1000.5 1464.4 L1007.4 1516.4 L1013.3 1464.8 L1018.2 1513.3 L1024.5 1464.4 L1031.1 1515.2 L1037.8 1465.9 L1041.7 1515.7 L1045.4 1466.6 L1052.0 1515.8 L1057.8 1465.0 L1063.5 1514.6 L1067.3 1465.0 L1072.8 1516.7 L1078.7 1466.6 L1084.7 1516.8 L1088.8 1463.9 L1092.2 1514.9 L1096.2 1463.8 L1100.8 1482.6 L1104.5 1465.7 L1111.4 1516.9 L1114.4 1464.0 L1118.1 1516.3 L1122.6 1463.2 L1126.2 1516.9 L1131.7 1466.0 L1136.0 1516.9 L1142.1 1466.0 L1148.1 1513.6 L1153.0 1463.9 L1157.3 1516.6 L1163.8 1463.5 L1168.3 1514.9 L1175.2 1464.0 L1179.9 1516.9 L1183.4 1471.7 L1186.8 1514.5 L1193.7 1466.7 L1197.7 1515.2 L1203.0 1465.5 L1208.9 1516.0 L1214.0 1485.1 L1217.4 1514.1 L1220.8 1463.7 L1224.7 1514.9 L1228.9 1465.6 L1235.6 1513.1 L1240.3 1465.0 L1243.5 1515.3 L1247.2 1463.4 L1251.7 1514.9 L1257.1 1464.2 L1261.6 1516.9 L1265.0 1464.2 L1270.7 1516.9 L1275.3 1464.9 L1280.7 1516.7 L1285.2 1503.8 L1289.0 1514.7 L1293.8 1466.0 L1297.3 1516.5 L1303.7 1465.6 L1309.5 1516.9 L1315.6 1465.9 L1320.0 1515.2 L1324.1 1465.1 L1330.9 1513.8 L1337.3 1464.2 L1342.2 1516.0 L1347.9 1466.7 L1354.2 1516.6 L1361.2 1463.6 L1364.5 1516.7 L1371.4 1465.6 L1375.6 1516.1 L1381.3 1464.8 L1384.8 1514.8 L1390.8 1463.4 L1396.7 1516.0 L1401.5 1465.8 L1408.5 1513.9 L1412.1 1495.1 L1418.6 1516.3 L1423.5 1464.6 L1430.3 1514.2 L1437.1 1464.3 L1442.7 1514.0 L1446.6 1465.5 L1452.3 1513.1 L1455.4 1464.9 L1461.9 1514.4 L1465.0 1466.8 L1470.4 1513.4 L1473.8 1466.3 L1477.6 1514.0 L1481.3 1466.2 L1486.8 1515.3 L1492.1 1464.9 L1498.9 1489.2 L1505.3 1465.6 L1510.2 1514.3 L1514.3 1467.3 L1520.3 1516.3 L1526.4 1464.6 L1532.6 1513.5 L1536.2 1464.5 L1540.4 1517.0 L1547.3 1464.5 L1551.8 1515.2 L1556.0 1465.6 L1561.2 1507.5 L1565.4 1465.6 L1571.0 1515.4 L1574.4 1465.5 L1579.5 1513.6 L1585.0 1464.2 L1589.9 1516.1 L1596.7 1463.4 L1601.2 1515.5 L1604.5 1464.8 L1609.3 1515.8 L1616.0 1464.8 L1622.7 1515.7 L1626.7 1463.8 L1631.2 1515.6 L1635.1 1466.2 L1639.7 1513.7 L1646.2 1466.7 L1652.0 1513.2 L1658.0 1466.5 L1664.0 1513.1 L1669.5 1465.7 L1674.0 1516.3 L1678.5 1464.9 L1682.2 1513.2 L1685.3 1464.4 L1692.0 1513.5 L1696.7 1465.2 L1703.1 1515.4 L1708.6 1463.6 L1715.3 1516.6 L1719.1 1464.0 L1723.1 1515.6 L1727.1 1465.4 L1731.6 1470.8 L1738.0 1464.7 L1741.5 1514.9 L1745.9 1466.1 L1750.5 1513.0 L1755.4 1465.5 L1761.7 1514.6 L1766.9 1466.9 L1773.2 1515.2 L1778.3 1463.2 L1785.3 1516.5 L1791.0 1479.5 L1797.2 1517.0 L1801.6 1463.7 L1807.3 1516.6 L1812.9 1463.2 L1816.9 1515.1 L1820.4 1473.8 L1827.1 1513.7 L1832.8 1466.5 L1837.8 1516.5 L1841.2 1474.6 L1845.7 1514.5 L1852.4 1465.9 L1859.0 1516.3 L1865.3 1465.5 L1869.8 1515.8 L1874.5 1464.6 L1880.8 1514.8 L1884.9 1466.1 L1888.8 1514.2 L1894.4 1463.1 L1898.3 1516.2 L1903.8 1465.5 L1909.6 1504.7 L1915.9 1466.3 L1919.1 1516.2 L1924.6 1465.2 L1931.5 1513.1 L1936.3 1464.2 L1942.6 1514.2 L1949.2 1465.3 L1953.9 1514.1 L1959.5 1463.5 L1963.6 1513.4 L1967.9 1465.2 L1973.0 1513.3 L1979.1 1465.8 L1983.9 1515.2 L1988.8 1464.0 L1993.7 1516.2 L1999.0 1464.2 L2004.4 1513.6 L2009.9 1465.6 L2015.6 1515.8 L2022.0 1510.0 L2025.8 1515.7 L2029.8 1465.9 L2034.5 1515.3 L2037.6 1465.3 L2041.2 1514.6 L2044.5 1465.4 L2050.1 1515.0 L2056.7 1463.6 L2063.6 1513.3 L2069.4 1466.5 L2075.2 1514.9 L2079.1 1463.2 L2082.6 1514.5 L2087.4 1466.9 L2092.3 1515.5 L2096.2 1465.1 L2099.5 1513.2 L2102.7 1465.8 L2107.8 1516.6 L2112.9 1466.1 L2118.7 1514.1 L2121.8 1464.9 L2125.4 1515.7 L2130.8 1465.6 L2134.2 1514.8 L2139.9 1464.7 L2144.1 1514.4 L2150.9 1464.4 L2157.6 1514.6 L2163.8 1464.5 L2169.3 1513.8 L2174.3 1481.4 L2180.7 1517.0 L2187.7 1465.9 L2191.0 1514.8 L2195.7 1464.7 L2199.4 1516.8 L2206.2 1466.3 L2210.4 1476.3 L2216.6 1466.6 L2223.2 1516.6 L2226.5 1463.9 L2229.5 1515.4 L2233.6 1490.9 L2238.7 1515.4 L2242.3 1464.7 L2246.7 1513.1 L2251.8 1464.8 L2258.6 1513.8 L2262.3 1465.4 L2266.7 1516.9 L2273.6 1465.6 L2277.6 1515.2 L2282.3 1464.1 L2288.3 1513.2 L2293.8 1463.1 L2300.1 1513.1 L2305.4 1465.7 L2311.2 1515.5 L2316.1 1465.7 L2321.2 1515.2 L2327.2 1464.7 L2333.8 1514.0 L2340.7 1463.5 L2346.2 1515.2 L2353.0 1464.6 L2359.1 1514.2 L2365.3 1464.4 L2371.0 1514.4 L2376.0 1467.0 L2380.6 1513.4 L2385.2 1465.6 L2391.8 1514.3 L2396.4 1463.2 L2399.8 1513.2 L2405.3 1465.9 L2411.6 1515.7 L2417.0 1464.6 L2421.8 1464.6 L2426.7 1480.8 L2431.7 1513.4 L2438.2 1465.6 L2442.1 1514.6 L2446.3 1466.3 L2452.2 1515.1 L2457.2 1465.3 L2463.6 1513.1 L2467.5 1466.2 L2471.4 1514.7 L2477.9 1465.3 L2481.5 1515.4 L2486.0 1463.7 L2491.8 1513.3 L2497.2 1466.2 L2501.1 1467.5 L2507.2 1463.8 L2511.8 1510.4 L2516.0 1465.3 L2519.5 1513.2 L2525.7 1466.5 L2532.5 1516.7 L2537.5 1463.3 L2542.6 1513.8 L2545.7 1466.6 L2550.4 1516.5 L2555.2 1481.2 L2561.4 1516.4 L2566.8 1465.5 L2572.4 1513.6 L2579.1 1463.1 L2582.5 1513.9 L2589.2 1466.9 L2594.7 1515.6 L2600.6 1463.8 L2603.7 1516.9 L2609.5 1466.4 L2613.1 1514.0 L2618.8 1464.9 L2622.1 1514.5 L2625.5 1466.3 L2629.9 1513.6 L2634.1 1465.3 L2639.3 1516.6" stroke="#c4055e" stroke-width="1.3" fill="none" opacity="0.6"/>
<path d="M933.4 1513.9 L936.5 1464.8 L939.9 1508.1 L942.9 1487.1 L946.2 1516.1 L949.7 1492.2 L953.3 1515.5 L956.3 1463.1 L959.3 1515.0 L962.2 1463.9 L965.1 1516.9 L968.2 1465.6 L971.8 1513.6 L974.7 1465.9 L978.3 1515.3 L981.6 1464.2 L985.0 1513.6 L988.2 1463.1 L991.6 1515.3 L994.8 1465.8 L997.7 1515.2 L1001.1 1465.1 L1004.2 1501.0 L1007.8 1465.4 L1010.6 1515.0 L1013.9 1465.2 L1016.8 1514.9 L1019.9 1464.8 L1023.1 1505.3 L1026.5 1466.5 L1029.9 1514.9 L1032.9 1463.2 L1036.1 1516.2 L1039.2 1464.4 L1042.3 1514.5 L1045.4 1463.1 L1048.2 1514.7 L1051.6 1466.2 L1054.4 1513.6 L1057.1 1503.8 L1060.0 1516.6 L1062.9 1463.3 L1066.0 1516.3 L1069.3 1464.8 L1072.4 1516.9 L1075.4 1463.8 L1078.9 1515.0 L1082.1 1464.0 L1084.9 1514.1 L1088.2 1465.7 L1091.0 1513.1 L1094.1 1463.9 L1097.1 1514.7 L1100.4 1463.2 L1103.9 1513.5 L1107.4 1464.2 L1110.7 1515.3 L1113.3 1507.2 L1116.9 1514.7 L1120.4 1466.9 L1123.5 1515.5 L1126.3 1465.7 L1129.1 1516.6 L1132.0 1465.0 L1135.4 1473.8 L1138.4 1466.9 L1141.3 1516.1 L1144.8 1466.7 L1148.2 1514.3 L1151.8 1463.9 L1154.5 1516.3 L1157.3 1466.0 L1160.8 1515.5 L1163.7 1466.5 L1167.2 1513.5 L1170.4 1467.0 L1173.8 1513.8 L1176.8 1465.5 L1179.7 1514.7 L1182.4 1464.1 L1185.6 1513.3 L1188.5 1466.1 L1191.1 1514.3 L1193.8 1475.9 L1197.4 1515.3 L1200.1 1464.0 L1202.8 1513.4 L1206.4 1466.6 L1209.3 1515.1 L1212.5 1516.1 L1215.4 1514.6 L1218.3 1463.3 L1221.9 1513.1 L1224.7 1465.5 L1227.9 1514.2 L1230.7 1465.2 L1233.6 1516.7 L1237.2 1464.8 L1240.4 1513.2 L1243.3 1464.3 L1246.7 1513.4 L1249.7 1465.2 L1252.9 1476.2 L1255.6 1467.1 L1258.8 1515.8 L1261.9 1466.5 L1265.0 1514.3 L1267.8 1466.1 L1271.2 1515.7 L1274.3 1466.7 L1277.8 1516.4 L1280.4 1464.3 L1283.8 1513.4 L1287.2 1465.8 L1290.2 1516.4 L1293.5 1515.0 L1296.9 1514.8 L1300.3 1464.8 L1303.3 1497.9 L1306.3 1482.2 L1309.0 1516.5 L1312.4 1464.6 L1315.7 1491.5 L1318.8 1465.6 L1322.0 1514.1 L1325.1 1464.9 L1328.2 1514.8 L1331.7 1464.1 L1334.3 1516.7 L1337.8 1463.6 L1341.3 1515.8 L1344.7 1464.5 L1348.1 1514.6 L1351.6 1466.8 L1354.3 1516.0 L1357.5 1499.8 L1360.8 1515.6 L1363.6 1516.0 L1367.0 1514.5 L1370.5 1466.8 L1373.9 1513.6 L1377.2 1464.8 L1380.8 1515.5 L1383.8 1463.7 L1386.5 1513.4 L1389.2 1465.4 L1392.0 1515.8 L1395.3 1463.0 L1398.3 1516.9 L1401.6 1466.3 L1404.4 1514.8 L1407.6 1464.0 L1411.0 1513.8 L1414.2 1465.0 L1417.5 1514.7 L1420.4 1463.4 L1423.1 1514.0 L1426.7 1466.0 L1429.4 1515.0 L1432.3 1465.0 L1435.5 1517.0 L1438.5 1464.2 L1441.9 1514.3 L1445.2 1464.5 L1447.8 1515.9 L1451.2 1466.3 L1454.8 1515.2 L1457.8 1466.0 L1460.7 1516.3 L1463.9 1484.0 L1466.9 1515.4 L1470.1 1465.9 L1473.4 1515.0 L1476.7 1465.6 L1479.7 1514.5 L1483.2 1466.1 L1486.6 1513.7 L1489.5 1464.1 L1493.0 1514.8 L1496.4 1464.9 L1499.1 1515.0 L1502.1 1464.4 L1504.7 1515.0 L1508.0 1464.6 L1511.2 1516.2 L1514.7 1507.9 L1517.8 1515.5 L1521.2 1463.7 L1524.5 1513.7 L1527.7 1463.9 L1530.5 1513.8 L1533.4 1463.9 L1536.7 1511.6 L1539.9 1464.3 L1543.3 1513.9 L1546.5 1463.7 L1549.5 1513.3 L1552.8 1464.0 L1555.5 1516.4 L1558.5 1466.0 L1561.8 1514.1 L1564.5 1464.6 L1567.2 1495.3 L1570.7 1501.0 L1574.1 1513.1 L1577.0 1466.4 L1580.3 1516.6 L1583.4 1464.5 L1586.2 1513.7 L1589.4 1463.8 L1592.4 1514.6 L1596.0 1463.2 L1599.4 1515.7 L1602.6 1466.7 L1606.1 1514.0 L1609.6 1463.1 L1612.8 1516.8 L1615.6 1464.9 L1619.1 1508.4 L1621.7 1464.1 L1624.4 1516.9 L1627.8 1465.7 L1631.0 1515.4 L1634.6 1465.6 L1637.3 1513.3 L1640.2 1465.4 L1643.3 1516.8 L1646.3 1463.8 L1649.4 1514.4 L1652.7 1465.9 L1655.6 1513.1 L1659.1 1466.4 L1661.7 1516.6 L1664.8 1464.5 L1667.4 1514.9 L1670.2 1464.6 L1673.6 1516.9 L1676.3 1466.2 L1679.0 1515.5 L1681.9 1463.5 L1685.3 1513.6 L1688.3 1464.0 L1691.2 1515.6 L1694.8 1465.3 L1698.1 1515.2 L1701.4 1466.3 L1704.5 1513.4 L1707.4 1463.6 L1710.5 1516.6 L1713.7 1463.2 L1717.0 1515.7 L1719.9 1464.3 L1723.0 1514.9 L1726.5 1464.3 L1729.2 1513.1 L1732.7 1466.7 L1736.1 1513.3 L1739.5 1463.5 L1742.7 1513.0 L1746.0 1466.0 L1749.5 1514.4 L1752.6 1466.9 L1755.4 1516.4 L1758.5 1466.6 L1761.5 1468.4 L1764.7 1464.1 L1767.6 1514.5 L1770.2 1463.3 L1773.5 1516.3 L1776.1 1464.5 L1779.4 1515.9 L1782.6 1466.5 L1785.6 1514.3 L1789.2 1466.2 L1792.6 1513.0 L1795.4 1466.0 L1798.5 1515.1 L1802.0 1466.2 L1804.6 1513.6 L1807.4 1464.2 L1810.0 1516.5 L1813.5 1466.0 L1816.7 1514.7 L1819.8 1465.2 L1823.3 1515.4 L1826.2 1464.2 L1829.4 1514.8 L1832.2 1465.5 L1835.5 1514.7 L1838.5 1466.7 L1841.8 1513.4 L1845.2 1464.5 L1848.6 1515.5 L1851.7 1464.3 L1854.4 1515.6 L1857.1 1463.7 L1860.5 1514.6 L1864.1 1464.0 L1867.4 1514.2 L1870.8 1464.9 L1873.9 1513.1 L1876.6 1463.5 L1879.4 1516.9 L1882.5 1466.8 L1885.8 1513.7 L1889.1 1467.0 L1892.2 1515.6 L1895.8 1463.4 L1898.8 1514.3 L1901.6 1464.1 L1905.0 1513.6 L1908.3 1463.3 L1911.6 1515.8 L1915.1 1463.5 L1917.8 1515.5 L1920.6 1465.1 L1924.1 1513.0 L1927.2 1466.6 L1930.0 1514.0 L1933.1 1463.0 L1936.3 1513.3 L1939.2 1465.2 L1942.6 1513.6 L1945.4 1465.8 L1948.2 1516.2 L1951.4 1466.8 L1954.6 1516.4 L1957.5 1465.8 L1960.3 1515.5 L1963.2 1465.4 L1966.7 1514.2 L1969.3 1464.3 L1972.6 1513.8 L1975.5 1465.0 L1978.2 1516.4 L1980.9 1465.2 L1984.1 1514.3 L1986.9 1465.3 L1989.9 1479.5 L1993.1 1463.3 L1996.4 1513.1 L1999.6 1480.8 L2002.3 1516.0 L2005.6 1502.1 L2008.3 1515.7 L2011.0 1463.1 L2014.0 1513.3 L2016.8 1465.7 L2019.9 1515.7 L2022.9 1466.2 L2026.3 1514.6 L2029.3 1465.7 L2032.5 1514.7 L2035.5 1466.6 L2038.6 1516.8 L2041.4 1463.9 L2044.5 1516.0 L2047.7 1464.9 L2050.4 1515.5 L2053.5 1465.2 L2056.8 1479.6 L2060.1 1463.6 L2062.8 1513.5 L2066.3 1466.4 L2069.8 1516.4 L2072.8 1464.8 L2076.0 1515.9 L2079.4 1514.4 L2082.9 1514.4 L2086.0 1466.5 L2089.4 1514.6 L2093.0 1464.6 L2095.6 1501.0 L2098.2 1463.2 L2100.9 1515.0 L2103.8 1466.9 L2107.1 1513.8 L2109.9 1466.2 L2113.1 1515.6 L2116.5 1466.7 L2119.9 1515.6 L2123.5 1486.5 L2126.5 1515.8 L2129.6 1465.8 L2132.7 1516.8 L2136.2 1463.7 L2139.2 1515.6 L2142.8 1463.1 L2145.8 1513.7 L2149.1 1463.4 L2152.7 1514.4 L2155.8 1464.9 L2159.1 1514.1 L2162.2 1465.2 L2165.7 1513.6 L2168.7 1467.0 L2171.5 1513.9 L2174.9 1464.2 L2178.4 1513.7 L2181.0 1464.6 L2184.4 1513.3 L2187.4 1463.0 L2191.0 1513.4 L2193.9 1464.0 L2197.4 1513.2 L2200.6 1465.1 L2204.0 1513.3 L2207.3 1465.8 L2210.4 1516.0 L2213.2 1465.6 L2216.3 1514.4 L2219.9 1514.6 L2222.8 1515.9 L2226.0 1466.9 L2228.9 1514.9 L2232.0 1464.7 L2235.0 1515.4 L2238.4 1464.4 L2241.6 1513.6 L2244.8 1465.9 L2247.6 1516.0 L2250.5 1464.9 L2253.2 1516.0 L2256.6 1465.2 L2259.6 1513.5 L2262.8 1464.6 L2266.0 1516.7 L2268.7 1466.0 L2271.9 1514.6 L2275.1 1463.3 L2278.1 1515.9 L2281.6 1464.4 L2284.5 1514.2 L2287.6 1463.4 L2290.4 1515.1 L2293.8 1465.4 L2297.2 1507.7 L2300.1 1466.2 L2303.3 1516.6 L2306.6 1464.0 L2309.7 1516.5 L2313.0 1466.3 L2316.5 1516.5 L2319.3 1463.0 L2322.2 1513.9 L2325.2 1465.5 L2328.5 1514.3 L2331.6 1466.4 L2334.9 1515.3 L2337.6 1466.3 L2340.8 1474.6 L2344.2 1465.2 L2347.7 1516.6 L2350.4 1464.7 L2353.9 1514.6 L2357.0 1465.1 L2360.0 1513.5 L2363.4 1463.3 L2366.4 1513.7 L2369.2 1466.6 L2371.8 1515.0 L2375.3 1464.6 L2378.7 1513.6 L2381.7 1466.6 L2385.2 1514.8 L2388.3 1464.7 L2391.2 1516.4 L2394.6 1464.1 L2398.0 1513.9 L2401.6 1466.2 L2404.3 1511.7 L2407.3 1464.5 L2410.5 1514.7 L2413.7 1466.4 L2416.8 1471.7 L2419.8 1463.9 L2422.5 1516.6 L2425.6 1466.3 L2429.1 1466.4 L2432.3 1466.3 L2435.9 1514.8 L2439.1 1463.3 L2442.6 1515.9 L2445.5 1465.9 L2448.3 1515.9 L2451.7 1464.2 L2455.2 1480.0 L2458.8 1466.4 L2461.8 1515.5 L2464.4 1464.3 L2467.9 1516.8 L2471.2 1466.5 L2474.8 1516.2 L2477.5 1465.3 L2480.4 1515.0 L2483.3 1466.9 L2486.1 1516.0 L2488.7 1464.0 L2491.3 1513.9 L2494.8 1463.1 L2497.6 1515.8 L2500.5 1464.6 L2503.3 1516.3 L2506.2 1466.7 L2509.3 1468.7 L2512.5 1465.7 L2515.6 1514.2 L2518.2 1464.7 L2521.6 1513.2 L2524.8 1465.2 L2527.9 1514.3 L2531.3 1464.8 L2534.8 1514.3 L2537.9 1466.2 L2540.8 1515.8 L2543.4 1464.8 L2546.3 1515.2 L2549.8 1465.8 L2552.8 1515.3 L2555.7 1503.6 L2559.1 1481.3 L2562.3 1466.1 L2565.1 1516.7 L2568.7 1465.6 L2572.0 1513.2 L2574.8 1466.8 L2577.6 1513.9 L2580.8 1464.5 L2583.8 1514.9 L2587.2 1463.3 L2590.8 1514.6 L2594.0 1464.0 L2596.8 1516.4 L2600.2 1501.0 L2603.1 1515.0 L2605.7 1464.5 L2609.2 1514.9 L2612.4 1465.3 L2615.5 1479.8 L2618.2 1465.0 L2621.7 1514.0 L2625.3 1464.1 L2628.1 1516.6 L2631.2 1463.5 L2634.8 1466.3 L2638.1 1463.5" stroke="#edce80" stroke-width="1.8" fill="none" opacity="1.0"/>
<path d="M933.7 1464.6 L936.4 1515.4 L939.6 1466.1 L942.6 1515.9 L945.3 1463.9 L948.6 1513.8 L951.3 1464.2 L954.5 1513.6 L957.2 1465.4 L960.2 1516.3 L962.9 1466.7 L965.9 1515.8 L969.0 1466.5 L972.0 1515.3 L974.9 1463.6 L978.2 1496.8 L981.0 1465.1 L983.9 1513.0 L986.8 1463.8 L989.6 1515.6 L992.5 1465.2 L995.1 1516.8 L998.4 1465.5 L1001.2 1516.3 L1003.9 1465.8 L1007.2 1514.1 L1009.8 1464.2 L1013.1 1515.4 L1016.2 1466.3 L1018.9 1515.2 L1021.8 1466.8 L1024.4 1516.8 L1027.6 1464.5 L1030.3 1513.1 L1033.1 1472.1 L1036.2 1489.5 L1039.0 1467.0 L1042.1 1513.9 L1045.4 1464.9 L1048.4 1516.9 L1051.2 1466.6 L1054.2 1516.9 L1057.0 1463.8 L1060.3 1513.1 L1063.3 1467.0 L1066.6 1514.4 L1069.8 1465.0 L1072.6 1513.5 L1075.9 1464.3 L1079.2 1514.4 L1082.2 1465.6 L1085.0 1513.3 L1087.7 1466.9 L1090.8 1516.8 L1093.5 1466.9 L1096.2 1516.3 L1099.2 1466.0 L1102.0 1517.0 L1104.6 1466.5 L1107.9 1513.9 L1110.9 1466.5 L1114.0 1515.7 L1117.2 1464.9 L1119.9 1516.9 L1122.9 1466.5 L1125.6 1515.5 L1128.6 1463.0 L1131.9 1516.7 L1134.8 1466.1 L1137.5 1515.1 L1140.2 1463.5 L1143.5 1515.0 L1146.8 1510.6 L1149.6 1515.8 L1152.5 1466.2 L1155.8 1516.3 L1158.8 1464.4 L1162.1 1479.8 L1165.2 1464.9 L1168.1 1516.7 L1171.4 1464.4 L1174.8 1514.5 L1177.9 1464.3 L1180.9 1513.4 L1184.2 1466.1 L1187.1 1516.4 L1190.0 1465.6 L1192.7 1516.4 L1195.4 1466.6 L1198.5 1515.6 L1201.2 1464.6 L1203.9 1514.4 L1206.7 1514.3 L1210.0 1513.8 L1213.4 1463.6 L1216.4 1514.7 L1219.6 1466.9 L1222.7 1514.3 L1225.8 1466.3 L1229.1 1515.4 L1232.4 1465.8 L1235.2 1515.7 L1238.6 1466.6 L1241.6 1513.7 L1244.5 1463.1 L1247.5 1514.2 L1250.4 1466.8 L1253.1 1516.7 L1256.5 1466.7 L1259.4 1516.6 L1262.1 1466.7 L1265.4 1516.4 L1268.2 1466.8 L1271.4 1514.3 L1274.8 1464.0 L1277.5 1480.1 L1280.2 1463.2 L1283.1 1513.4 L1286.2 1465.6 L1289.6 1514.1 L1292.7 1465.9 L1295.7 1516.4 L1298.7 1463.3 L1302.0 1516.0 L1305.1 1466.4 L1308.0 1510.3 L1310.7 1466.8 L1313.4 1513.6 L1316.2 1465.2 L1319.4 1516.3 L1322.7 1465.8 L1326.1 1515.5 L1329.4 1465.3 L1332.5 1513.4 L1335.6 1466.6 L1338.2 1514.5 L1341.5 1465.6 L1344.8 1514.5 L1348.1 1466.6 L1351.4 1514.4 L1354.5 1465.1 L1357.3 1516.7 L1360.3 1465.2 L1363.1 1505.2 L1366.5 1465.8 L1369.9 1513.7 L1372.5 1466.4 L1375.6 1516.9 L1378.2 1464.9 L1381.1 1513.4 L1384.3 1464.2 L1387.4 1516.9 L1390.8 1466.0 L1393.6 1514.2 L1396.8 1464.7 L1399.4 1513.5 L1402.2 1466.0 L1405.3 1513.6 L1408.4 1464.0 L1411.0 1515.9 L1414.4 1463.5 L1417.0 1513.1 L1419.7 1463.8 L1422.9 1513.4 L1425.5 1464.4 L1428.9 1516.3 L1432.2 1463.5 L1435.1 1514.7 L1438.4 1463.3 L1441.1 1504.4 L1443.9 1480.5 L1446.7 1513.1 L1449.6 1467.0 L1452.4 1513.2 L1455.5 1511.8 L1458.7 1514.3 L1461.4 1463.8 L1464.4 1514.8 L1467.3 1466.0 L1470.5 1516.8 L1473.2 1464.0 L1476.0 1514.5 L1478.9 1465.8 L1481.6 1515.6 L1484.4 1463.1 L1487.7 1514.1 L1490.7 1463.2 L1493.8 1515.4 L1496.7 1464.9 L1499.7 1505.3 L1502.9 1464.7 L1505.7 1514.8 L1508.7 1466.9 L1511.5 1514.5 L1514.5 1486.6 L1517.8 1472.9 L1520.6 1464.7 L1523.7 1516.3 L1526.9 1465.2 L1530.2 1516.0 L1533.2 1465.2 L1536.5 1516.2 L1539.2 1466.5 L1542.6 1516.4 L1545.7 1463.2 L1549.0 1516.7 L1552.2 1465.4 L1555.0 1516.8 L1558.3 1463.8 L1561.1 1514.2 L1564.5 1464.2 L1567.1 1514.9 L1570.3 1463.3 L1573.0 1515.3 L1575.8 1466.4 L1579.1 1516.2 L1582.4 1463.2 L1585.2 1514.9 L1587.9 1465.6 L1591.0 1515.0 L1594.2 1463.3 L1596.9 1516.6 L1599.7 1464.4 L1602.8 1516.5 L1605.5 1466.8 L1608.7 1514.8 L1611.5 1464.4 L1614.5 1514.9 L1617.6 1463.7 L1620.8 1514.8 L1623.8 1463.8 L1627.0 1514.1 L1629.9 1464.3 L1632.8 1515.8 L1635.6 1464.9 L1638.4 1514.3 L1641.7 1466.2 L1645.0 1516.3 L1648.4 1509.8 L1651.0 1514.4 L1653.8 1464.0 L1656.7 1516.0 L1659.9 1464.2 L1663.1 1463.3 L1666.5 1464.7 L1669.6 1513.1 L1672.4 1482.6 L1675.6 1514.7 L1679.0 1464.7 L1681.9 1516.7 L1684.7 1463.1 L1687.4 1515.2 L1690.6 1466.5 L1693.7 1513.4 L1697.0 1463.4 L1700.4 1513.1 L1703.5 1464.7 L1706.8 1514.7 L1710.2 1464.1 L1712.8 1513.5 L1715.9 1464.0 L1718.9 1513.5 L1721.9 1464.7 L1724.6 1500.8 L1727.8 1464.9 L1730.6 1516.4 L1733.4 1465.9 L1736.5 1513.1 L1739.8 1466.9 L1743.0 1515.6 L1746.2 1466.1 L1749.4 1514.3 L1752.4 1463.7 L1755.2 1516.9 L1758.5 1507.2 L1761.7 1516.4 L1765.0 1465.3 L1767.6 1516.7 L1770.8 1465.6 L1774.0 1516.7 L1776.8 1463.0 L1780.0 1489.1 L1782.9 1465.3 L1786.1 1513.3 L1789.2 1463.5 L1791.8 1513.6 L1795.0 1466.5 L1797.8 1516.0 L1800.7 1463.3 L1803.8 1513.5 L1807.0 1466.3 L1809.9 1513.7 L1812.6 1463.6 L1815.6 1513.5 L1818.9 1464.5 L1821.7 1514.4 L1824.3 1464.6 L1827.6 1515.9 L1830.8 1463.6 L1834.2 1513.2 L1837.1 1465.2 L1840.2 1516.2 L1843.2 1463.3 L1845.9 1515.2 L1848.9 1464.1 L1852.1 1516.2 L1855.2 1464.1 L1857.8 1515.4 L1860.5 1465.0 L1863.4 1514.2 L1866.8 1466.9 L1870.0 1474.4 L1873.1 1464.9 L1875.9 1516.3 L1878.9 1466.3 L1881.7 1513.3 L1884.9 1466.2 L1887.7 1516.6 L1890.9 1466.6 L1893.9 1515.0 L1896.6 1464.5 L1899.7 1514.6 L1902.7 1463.7 L1905.4 1515.7 L1908.4 1463.7 L1911.5 1515.8 L1914.4 1499.3 L1917.1 1513.4 L1920.3 1463.1 L1923.2 1513.9 L1925.9 1463.2 L1928.8 1515.5 L1931.7 1465.3 L1934.4 1515.1 L1937.6 1465.9 L1940.6 1515.6 L1943.2 1466.1 L1946.3 1514.9 L1949.0 1465.7 L1951.6 1514.3 L1954.8 1485.0 L1957.8 1513.1 L1960.4 1463.5 L1963.7 1513.8 L1967.0 1466.3 L1970.1 1516.0 L1973.3 1466.7 L1975.9 1515.6 L1978.8 1463.2 L1981.8 1515.9 L1984.8 1463.4 L1987.6 1513.4 L1990.6 1466.1 L1993.5 1513.5 L1996.8 1465.1 L1999.7 1515.9 L2002.6 1465.1 L2005.9 1514.2 L2009.0 1465.8 L2012.0 1514.9 L2014.8 1464.3 L2017.7 1513.6 L2020.5 1465.4 L2023.9 1513.2 L2026.9 1465.6 L2029.9 1515.4 L2033.2 1466.2 L2036.5 1516.0 L2039.3 1463.4 L2042.0 1516.0 L2044.8 1464.6 L2048.1 1516.7 L2051.1 1463.6 L2054.0 1515.6 L2057.0 1464.9 L2060.1 1515.1 L2063.2 1464.6 L2065.9 1514.8 L2069.0 1466.3 L2072.1 1513.3 L2075.5 1464.8 L2078.2 1516.9 L2081.2 1464.0 L2084.0 1514.3 L2087.1 1466.7 L2090.4 1516.8 L2093.2 1464.8 L2096.4 1516.2 L2099.1 1466.0 L2101.8 1516.5 L2105.1 1463.3 L2108.4 1516.3 L2111.3 1465.6 L2114.0 1513.4 L2117.4 1465.4 L2120.5 1516.6 L2123.7 1466.2 L2126.6 1514.2 L2129.2 1465.2 L2132.3 1485.4 L2135.3 1465.2 L2138.3 1514.7 L2141.4 1465.3 L2144.2 1513.5 L2147.4 1464.1 L2150.2 1515.3 L2153.5 1465.9 L2156.3 1514.0 L2159.0 1463.5 L2162.1 1488.9 L2164.9 1465.3 L2167.6 1514.8 L2170.9 1463.7 L2174.1 1515.9 L2177.3 1465.3 L2180.6 1513.1 L2183.5 1464.8 L2186.8 1515.4 L2189.5 1464.8 L2192.7 1515.1 L2195.5 1464.4 L2198.3 1515.1 L2201.0 1465.0 L2204.4 1515.0 L2207.2 1471.2 L2210.3 1514.9 L2213.4 1464.4 L2216.3 1514.7 L2219.2 1466.0 L2222.6 1516.7 L2225.3 1463.7 L2228.5 1516.5 L2231.8 1466.9 L2234.6 1514.1 L2237.4 1466.2 L2240.7 1513.5 L2243.4 1466.3 L2246.1 1513.5 L2248.9 1464.6 L2251.6 1476.9 L2254.8 1465.6 L2258.1 1516.9 L2261.3 1464.4 L2264.0 1513.2 L2267.2 1466.8 L2270.0 1515.3 L2273.3 1465.5 L2276.4 1513.9 L2279.7 1465.1 L2282.4 1514.6 L2285.3 1465.2 L2288.1 1516.7 L2291.3 1464.0 L2294.0 1514.6 L2296.8 1469.3 L2299.5 1513.9 L2302.7 1463.8 L2305.3 1513.8 L2308.7 1465.8 L2311.6 1514.7 L2315.0 1463.9 L2318.4 1514.2 L2321.4 1463.1 L2324.6 1515.9 L2327.6 1466.5 L2330.8 1516.0 L2333.9 1466.0 L2336.8 1514.0 L2339.8 1465.6 L2343.1 1514.9 L2345.8 1465.7 L2348.7 1514.2 L2351.7 1464.5 L2355.0 1515.9 L2357.9 1466.5 L2360.6 1515.7 L2363.9 1465.3 L2367.3 1514.1 L2370.5 1466.9 L2373.7 1515.0 L2377.1 1466.8 L2380.2 1515.0 L2383.1 1466.8 L2386.4 1514.3 L2389.3 1464.4 L2392.5 1515.5 L2395.8 1465.1 L2398.7 1515.3 L2401.5 1465.7 L2404.8 1514.9 L2408.2 1466.2 L2411.3 1516.5 L2413.9 1465.9 L2417.2 1514.4 L2420.2 1464.2 L2423.2 1513.2 L2425.8 1463.7 L2429.2 1516.5 L2432.5 1464.2 L2435.3 1516.8 L2438.3 1463.9 L2441.3 1514.2 L2444.1 1466.5 L2447.3 1515.6 L2450.2 1465.7 L2453.2 1515.2 L2456.2 1507.2 L2459.2 1513.6 L2462.5 1466.2 L2465.7 1516.8 L2469.0 1465.9 L2471.9 1516.3 L2474.9 1466.1 L2477.9 1513.2 L2481.1 1465.6 L2483.9 1515.7 L2487.1 1466.1 L2490.0 1516.5 L2493.3 1465.1 L2496.6 1516.2 L2499.6 1464.9 L2502.2 1513.3 L2505.2 1463.1 L2508.2 1513.2 L2510.9 1466.5 L2513.9 1514.9 L2516.9 1464.8 L2519.7 1515.9 L2522.3 1464.9 L2525.6 1516.5 L2528.9 1466.8 L2531.7 1513.6 L2534.8 1466.7 L2537.6 1514.7 L2540.7 1465.3 L2543.8 1514.3 L2547.1 1463.6 L2549.9 1516.3 L2553.2 1466.6 L2556.5 1513.3 L2559.8 1480.7 L2562.6 1514.9 L2565.9 1464.0 L2568.6 1513.9 L2571.7 1494.2 L2574.8 1516.0 L2577.9 1464.0 L2580.7 1514.7 L2583.6 1463.5 L2586.7 1515.4 L2589.9 1465.2 L2593.3 1514.8 L2596.3 1464.1 L2599.5 1516.7 L2602.7 1465.0 L2605.6 1516.4 L2608.7 1466.7 L2611.8 1516.8 L2614.8 1465.7 L2618.2 1514.2 L2621.5 1466.8 L2624.9 1514.9 L2627.5 1463.3 L2630.4 1513.1 L2633.4 1465.4 L2636.4 1513.8 L2639.3 1464.7" stroke="#ecb7d2" stroke-width="2.6" fill="none" opacity="1.0"/>
<path d="M934.9 1513.8 L941.8 1488.1 L949.6 1514.4 L954.1 1464.9 L960.2 1474.7 L965.3 1466.7 L970.0 1513.8 L976.5 1510.1 L981.3 1516.1 L988.8 1464.2 L994.9 1514.3 L1002.7 1465.8 L1010.3 1515.8 L1014.9 1479.3 L1021.4 1517.0 L1026.7 1464.2 L1032.6 1515.7 L1039.4 1463.2 L1043.5 1514.0 L1047.6 1466.2 L1053.9 1472.8 L1061.7 1463.8 L1069.5 1513.2 L1074.9 1465.1 L1079.3 1514.0 L1086.8 1463.1 L1091.1 1515.6 L1098.8 1464.4 L1105.0 1515.8 L1109.7 1463.3 L1116.4 1513.0 L1120.6 1466.9 L1126.3 1516.1 L1133.6 1464.8 L1137.8 1489.7 L1145.1 1463.5 L1152.9 1514.5 L1157.4 1464.7 L1164.7 1515.8 L1172.7 1466.4 L1178.6 1515.0 L1184.5 1464.2 L1189.1 1515.5 L1196.9 1465.5 L1202.3 1516.6 L1209.4 1466.5 L1216.5 1513.9 L1223.2 1466.0 L1230.0 1515.9 L1237.1 1465.8 L1244.9 1514.4 L1248.9 1465.2 L1255.6 1515.1 L1262.2 1466.2 L1268.8 1514.0 L1274.2 1466.4 L1280.9 1513.1 L1287.0 1465.1 L1294.3 1513.3 L1301.1 1465.9 L1305.8 1513.9 L1312.4 1464.7 L1319.5 1514.5 L1323.7 1463.6 L1330.3 1516.1 L1336.8 1463.2 L1341.7 1516.8 L1347.0 1463.7 L1351.1 1515.1 L1357.5 1465.4 L1365.2 1517.0 L1370.3 1464.6 L1377.6 1496.1 L1382.0 1465.2 L1388.3 1513.2 L1394.0 1466.3 L1399.5 1516.4 L1405.7 1466.8 L1412.1 1515.6 L1416.1 1463.4 L1422.6 1516.4 L1430.2 1464.5 L1435.1 1515.8 L1440.6 1466.8 L1447.0 1516.0 L1453.0 1464.7 L1460.9 1515.0 L1466.8 1463.5 L1472.6 1515.8 L1479.9 1463.1 L1485.0 1513.3 L1490.0 1464.1 L1497.9 1515.8 L1503.8 1465.6 L1510.8 1516.5 L1516.0 1465.1 L1521.2 1514.9 L1526.6 1466.0 L1530.8 1516.0 L1538.4 1466.6 L1542.5 1513.9 L1548.8 1465.8 L1554.7 1513.4 L1560.3 1466.4 L1565.5 1508.2 L1572.3 1464.7 L1579.4 1513.4 L1585.3 1465.2 L1590.6 1516.4 L1597.9 1463.3 L1605.1 1513.8 L1609.2 1465.9 L1617.2 1508.5 L1622.1 1465.6 L1629.0 1516.5 L1636.6 1463.6 L1642.3 1516.4 L1646.5 1463.4 L1650.8 1516.8 L1657.7 1466.5 L1663.5 1515.7 L1669.4 1466.8 L1673.6 1514.2 L1680.2 1465.0 L1686.4 1514.5 L1692.6 1464.0 L1698.7 1516.5 L1704.1 1465.9 L1711.0 1514.4 L1717.7 1463.4 L1724.0 1516.0 L1730.0 1464.3 L1734.1 1471.1 L1741.9 1465.7 L1746.4 1513.1 L1753.6 1463.6 L1759.1 1516.1 L1765.5 1464.4 L1770.1 1513.7 L1777.3 1464.7 L1783.3 1514.6 L1790.3 1464.6 L1794.4 1511.0 L1800.4 1488.4 L1807.9 1514.5 L1813.8 1463.4 L1818.4 1515.5 L1825.9 1463.6 L1831.0 1516.4 L1836.0 1512.9 L1841.5 1513.2 L1848.2 1464.9 L1852.6 1514.3 L1859.3 1465.9 L1864.1 1516.9 L1868.4 1464.6 L1873.9 1515.8 L1879.0 1465.9 L1883.7 1516.0 L1891.5 1465.6 L1899.4 1505.1 L1905.0 1463.2 L1913.0 1514.9 L1917.3 1463.3 L1923.3 1476.1 L1927.5 1476.8 L1933.1 1465.0 L1941.0 1463.7 L1946.6 1514.9 L1951.9 1463.4 L1959.6 1514.6 L1964.4 1463.1 L1970.4 1514.7 L1976.9 1465.9 L1982.1 1515.2 L1987.0 1463.5 L1991.3 1513.9 L1996.6 1463.5 L2001.6 1516.7 L2007.9 1500.8 L2012.1 1516.2 L2017.6 1463.4 L2022.8 1514.0 L2030.4 1465.6 L2036.7 1515.2 L2043.3 1466.8 L2050.1 1515.9 L2055.7 1472.1 L2060.7 1514.3 L2065.0 1466.1 L2069.1 1516.8 L2074.5 1466.4 L2081.0 1516.1 L2086.4 1494.6 L2093.7 1514.1 L2099.8 1463.7 L2105.6 1513.2 L2110.1 1464.3 L2115.9 1515.3 L2123.0 1466.7 L2130.9 1514.6 L2138.1 1515.8 L2142.3 1514.7 L2149.8 1464.6 L2154.9 1516.2 L2160.3 1466.0 L2165.7 1516.0 L2173.1 1466.4 L2178.7 1516.4 L2184.7 1463.2 L2189.1 1514.1 L2193.9 1466.2 L2200.6 1513.5 L2207.8 1490.6 L2214.1 1516.3 L2219.4 1463.1 L2224.9 1515.1 L2230.5 1466.9 L2238.2 1514.2 L2244.4 1466.2 L2250.8 1514.3 L2255.9 1463.3 L2261.3 1514.7 L2268.2 1464.2 L2273.3 1503.7 L2279.9 1466.8 L2286.7 1513.6 L2293.1 1463.8 L2300.7 1516.0 L2306.9 1484.1 L2311.6 1514.4 L2319.3 1465.5 L2323.7 1514.2 L2330.6 1464.5 L2335.4 1515.8 L2341.9 1466.6 L2348.4 1513.9 L2352.7 1465.3 L2360.2 1514.1 L2365.9 1465.1 L2371.1 1515.9 L2379.0 1469.2 L2385.2 1514.6 L2390.0 1465.4 L2396.7 1489.2 L2404.1 1466.8 L2411.5 1514.4 L2416.4 1465.8 L2422.3 1516.6 L2426.9 1463.4 L2433.4 1516.6 L2440.3 1466.3 L2447.2 1513.3 L2453.7 1466.9 L2458.1 1516.7 L2463.6 1464.8 L2470.6 1516.7 L2476.7 1464.5 L2483.1 1515.5 L2489.1 1466.9 L2493.4 1514.0 L2498.6 1463.5 L2504.0 1514.1 L2509.5 1464.2 L2516.3 1513.8 L2521.5 1464.3 L2527.6 1516.8 L2532.5 1477.6 L2536.9 1515.1 L2543.1 1464.5 L2547.4 1515.6 L2551.5 1466.1 L2555.5 1516.0 L2561.1 1474.8 L2569.0 1515.2 L2573.3 1464.1 L2580.1 1484.2 L2587.2 1464.7 L2594.8 1514.4 L2598.9 1463.1 L2604.6 1513.5 L2612.2 1464.5 L2619.3 1513.4 L2626.4 1464.7 L2634.4 1516.1 L2639.4 1464.9" stroke="#ecb7d2" stroke-width="1.4" fill="none" opacity="1.0"/>
</g>
<rect x="932" y="1520" width="1710" height="24" fill="#005eb8"/>
<rect x="932" y="1547.5" width="1710" height="2.5" fill="#1a1a1a"/>
<rect x="930.5" y="1547" width="3" height="10" fill="#222"/>
<rect x="1102.5" y="1547" width="3" height="10" fill="#222"/>
<rect x="1392.5" y="1547" width="3" height="10" fill="#222"/>
<rect x="1682.1" y="1547" width="3" height="10" fill="#222"/>
<rect x="1962.3" y="1547" width="3" height="10" fill="#222"/>
<rect x="2252.2" y="1547" width="3" height="10" fill="#222"/>
<rect x="2532.5" y="1547" width="3" height="10" fill="#222"/>
<rect x="2638.5" y="1547" width="3" height="10" fill="#222"/>
<rect x="2638" y="1460" width="4.5" height="85" rx="2.2" fill="#fff" fill-opacity="0.3" stroke="#222" stroke-width="2"/>
<rect x="2634.5" y="1474" width="9.5" height="35" rx="1.5" fill="#222"/>
<rect x="2636" y="1526" width="7.5" height="12" fill="#999"/>
</svg>
<div class="t" style="left:875.0px;top:340.8px;font-size:19.20px;color:#1f2329;transform:scaleX(1.0356);">92.8</div>
<div class="t" style="left:891.0px;top:475.0px;font-size:19.20px;color:#1f2329;transform:scaleX(1.0629);">80</div>
<div class="t" style="left:891.0px;top:684.7px;font-size:19.20px;color:#1f2329;transform:scaleX(1.0629);">60</div>
<div class="t" style="left:891.0px;top:894.4px;font-size:19.20px;color:#1f2329;transform:scaleX(1.0629);">40</div>
<div class="t" style="left:891.0px;top:1104.1px;font-size:19.20px;color:#1f2329;transform:scaleX(1.0629);">20</div>
<div class="t" style="left:901.7px;top:1313.8px;font-size:19.20px;color:#1f2329;transform:scaleX(1.1238);">0</div>
<div class="t" style="left:1100.5px;top:1343.2px;font-size:19.50px;color:#1f2329;transform:scaleX(1.0365);">06 AM</div>
<div class="t" style="left:1314.5px;top:1343.2px;font-size:19.50px;color:#1f2329;transform:scaleX(1.0365);">07 AM</div>
<div class="t" style="left:1528.3px;top:1343.2px;font-size:19.50px;color:#1f2329;transform:scaleX(1.0365);">08 AM</div>
<div class="t" style="left:1742.2px;top:1343.2px;font-size:19.50px;color:#1f2329;transform:scaleX(1.0365);">09 AM</div>
<div class="t" style="left:1956.2px;top:1343.2px;font-size:19.50px;color:#1f2329;transform:scaleX(1.0365);">10 AM</div>
<div class="t" style="left:2170.0px;top:1343.2px;font-size:19.50px;color:#1f2329;transform:scaleX(1.0644);">11 AM</div>
<div class="t" style="left:2384.0px;top:1343.2px;font-size:19.50px;color:#1f2329;transform:scaleX(1.0167);">12 PM</div>
<div class="t" style="left:2597.8px;top:1343.2px;font-size:19.50px;color:#1f2329;transform:scaleX(1.0167);">01 PM</div>
<div class="t" style="left:1092.5px;top:1559.9px;font-size:19.50px;color:#1f2329;transform:scaleX(0.9227);">Jul</div>
<div class="t" style="left:1377.0px;top:1559.9px;font-size:19.50px;color:#1f2329;transform:scaleX(0.9799);">Aug</div>
<div class="t" style="left:1667.1px;top:1559.9px;font-size:19.50px;color:#1f2329;transform:scaleX(0.9511);">Sep</div>
<div class="t" style="left:1947.8px;top:1559.9px;font-size:19.50px;color:#1f2329;transform:scaleX(1.0549);">Oct</div>
<div class="t" style="left:2236.2px;top:1559.9px;font-size:19.50px;color:#1f2329;transform:scaleX(1.0093);">Nov</div>
<div class="t" style="left:2517.0px;top:1559.9px;font-size:19.50px;color:#1f2329;transform:scaleX(0.9805);">Dec</div>
</body></html>
